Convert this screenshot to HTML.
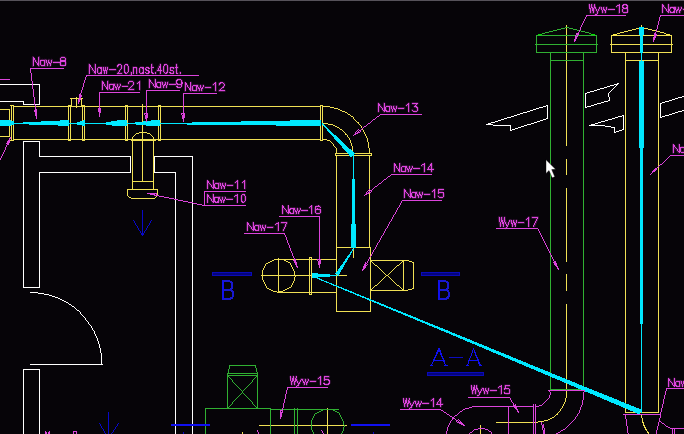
<!DOCTYPE html>
<html><head><meta charset="utf-8"><title>CAD view</title>
<style>
html,body{margin:0;padding:0;background:#060408;overflow:hidden;font-family:"Liberation Sans",sans-serif;}
svg{display:block;position:absolute;left:0;top:0;}
</style></head>
<body>
<svg width="684" height="434" viewBox="0 0 684 434" shape-rendering="crispEdges" stroke-linecap="butt" stroke-linejoin="miter">
<rect x="0" y="0" width="684" height="434" fill="#060408"/>
<rect x="0.0" y="0.0" width="684.0" height="1.0" fill="#56525a"/>
<path d="M0,101h24v1h-24zM23,101h1v4h-1zM23,104h17v1h-17zM39,84h1v21h-1zM0,84h40v1h-40z" fill="#ffffff"/>
<path d="M23,141h1v147h-1zM23,141h17v1h-17zM39,141h1v16h-1zM39,156h92v1h-92zM130,156h1v17h-1zM39,172h92v1h-92zM39,172h1v116h-1zM23,287h17v1h-17z" fill="#ffffff"/>
<path d="M154,156h1v17h-1zM154,156h39v1h-39zM192,156h1v281h-1z" fill="#ffffff"/>
<path d="M154,172h22v1h-22zM175,172h1v265h-1z" fill="#ffffff"/>
<path d="M30,292h2v1h-2zM31,292h2v1h-2zM32,292h2v1h-2zM33,292h3v1h-3zM35,292h2v1h-2zM36,292h2v1h-2zM38,293h3v1h-3zM40,293h2v1h-2zM41,293h2v1h-2zM42,293h2v1h-2zM44,294h3v1h-3zM46,294h2v1h-2zM47,294h2v1h-2zM49,295h3v1h-3zM52,296h2v1h-2zM53,296h2v1h-2zM55,297h2v1h-2zM58,298h2v1h-2zM60,299h2v1h-2zM62,300h2v1h-2zM66,302h2v1h-2zM69,304h2v1h-2zM72,306h2v1h-2zM77,310h2v1h-2zM80,312h1v2h-1zM85,318h1v2h-1zM88,322h1v2h-1zM91,326h1v2h-1zM92,328h1v2h-1zM94,331h1v2h-1zM95,334h1v2h-1zM96,336h1v2h-1zM97,338h1v2h-1zM98,341h1v2h-1zM98,342h1v2h-1zM99,344h1v2h-1zM99,345h1v3h-1zM100,348h1v2h-1zM100,349h1v2h-1zM100,350h1v2h-1zM101,353h1v2h-1zM101,354h1v2h-1zM101,355h1v2h-1zM101,356h1v3h-1zM101,358h1v2h-1zM101,359h1v2h-1zM101,360h1v2h-1zM101,361h1v3h-1zM37,292h1v1h-1zM38,293h1v1h-1zM43,293h1v1h-1zM44,294h1v1h-1zM48,294h1v1h-1zM49,295h1v1h-1zM51,295h1v1h-1zM52,296h1v1h-1zM54,296h1v1h-1zM55,297h1v1h-1zM56,297h1v1h-1zM57,297h1v1h-1zM58,298h1v1h-1zM59,298h1v1h-1zM60,299h1v1h-1zM61,299h1v1h-1zM62,300h1v1h-1zM63,300h1v1h-1zM64,301h1v1h-1zM65,301h1v1h-1zM66,302h1v1h-1zM67,302h1v1h-1zM68,303h1v1h-1zM69,304h1v1h-1zM70,304h1v1h-1zM71,305h1v1h-1zM72,306h1v1h-1zM73,306h1v1h-1zM74,307h1v1h-1zM75,308h1v1h-1zM76,309h1v1h-1zM77,310h1v1h-1zM78,310h1v1h-1zM79,311h1v1h-1zM80,312h1v2h-1zM81,314h1v1h-1zM82,315h1v1h-1zM83,316h1v1h-1zM84,317h1v1h-1zM85,318h1v2h-1zM86,320h1v1h-1zM87,321h1v1h-1zM88,322h1v2h-1zM89,324h1v1h-1zM90,325h1v1h-1zM91,326h1v2h-1zM92,328h1v2h-1zM93,330h1v1h-1zM94,331h1v3h-1zM95,334h1v2h-1zM96,336h1v2h-1zM97,338h1v3h-1zM98,341h1v1h-1zM98,343h1v1h-1zM99,344h1v1h-1zM99,347h1v1h-1zM100,348h1v1h-1zM100,351h1v2h-1zM101,353h1v1h-1zM101,363h1v1h-1zM102,364h1v1h-1z" fill="#ffffff"/>
<path d="M30,364h72v1h-72zM101,362h1v3h-1z" fill="#ffffff"/>
<path d="M23,369h1v68h-1zM23,369h17v1h-17zM39,369h1v68h-1z" fill="#ffffff"/>
<path d="M547,105h1v14h-1zM510,125h1v6h-1zM499,125h12v1h-12zM546,105h2v1h-2zM543,106h3v1h-3zM539,107h4v1h-4zM536,108h3v1h-3zM533,109h3v1h-3zM530,110h3v1h-3zM527,111h3v1h-3zM523,112h4v1h-4zM520,113h3v1h-3zM517,114h3v1h-3zM514,115h3v1h-3zM511,116h3v1h-3zM507,117h4v1h-4zM504,118h3v1h-3zM546,118h2v1h-2zM501,119h3v1h-3zM543,119h3v1h-3zM498,120h3v1h-3zM540,120h3v1h-3zM495,121h3v1h-3zM537,121h3v1h-3zM491,122h4v1h-4zM534,122h3v1h-3zM488,123h3v1h-3zM531,123h3v1h-3zM486,124h7v1h-7zM527,124h4v1h-4zM493,125h7v1h-7zM524,125h3v1h-3zM521,126h3v1h-3zM518,127h3v1h-3zM515,128h3v1h-3zM512,129h3v1h-3zM510,130h2v1h-2z" fill="#ffffff"/>
<path d="M585,93h1v15h-1zM617,83h2v1h-2zM614,84h4v1h-4zM610,85h4v1h-4zM616,85h1v1h-1zM607,86h3v1h-3zM615,86h1v1h-1zM604,87h3v1h-3zM614,87h1v1h-1zM600,88h4v1h-4zM613,88h1v1h-1zM597,89h3v1h-3zM612,89h1v1h-1zM594,90h3v1h-3zM611,90h1v1h-1zM590,91h4v1h-4zM610,91h1v1h-1zM587,92h3v1h-3zM609,92h1v1h-1zM585,93h2v1h-2zM608,93h1v1h-1zM608,94h1v1h-1zM608,95h1v1h-1zM608,96h1v1h-1zM609,97h1v1h-1zM609,98h1v1h-1zM609,99h1v1h-1zM608,100h2v1h-2zM604,101h4v1h-4zM601,102h3v1h-3zM597,103h4v1h-4zM594,104h3v1h-3zM591,105h3v1h-3zM587,106h4v1h-4zM585,107h2v1h-2z" fill="#ffffff"/>
<path d="M623,115h1v15h-1zM614,127h1v6h-1zM589,125h13v1h-13zM622,115h2v1h-2zM618,116h4v1h-4zM615,117h3v1h-3zM612,118h3v1h-3zM608,119h4v1h-4zM605,120h3v1h-3zM601,121h4v1h-4zM598,122h3v1h-3zM595,123h3v1h-3zM591,124h4v1h-4zM589,125h2v1h-2zM601,125h4v1h-4zM605,126h6v1h-6zM611,127h4v1h-4zM622,129h2v1h-2zM619,130h3v1h-3zM616,131h3v1h-3zM614,132h2v1h-2z" fill="#ffffff"/>
<path d="M660,103h1v15h-1zM685,95h2v1h-2zM682,96h3v1h-3zM678,97h4v1h-4zM675,98h3v1h-3zM672,99h3v1h-3zM669,100h3v1h-3zM665,101h4v1h-4zM662,102h3v1h-3zM660,103h2v1h-2zM685,109h2v1h-2zM682,110h3v1h-3zM678,111h4v1h-4zM675,112h3v1h-3zM672,113h3v1h-3zM669,114h3v1h-3zM665,115h4v1h-4zM662,116h3v1h-3zM660,117h2v1h-2z" fill="#ffffff"/>
<path d="M0,109h10v1h-10zM9,109h1v28h-1zM0,136h10v1h-10z" fill="#f0e054"/>
<path d="M13,106h308v1h-308z" fill="#f0e054"/>
<path d="M13,139h308v1h-308z" fill="#f0e054"/>
<path d="M11,105h1v36h-1z" fill="#f0e054"/>
<path d="M13,105h1v36h-1z" fill="#f0e054"/>
<path d="M10,105h4v1h-4z" fill="#f0e054"/>
<path d="M10,140h4v1h-4z" fill="#f0e054"/>
<path d="M68,105h3v1h-3zM70,105h1v36h-1zM68,140h3v1h-3zM68,105h1v36h-1z" fill="#f0e054"/>
<path d="M82,105h3v1h-3zM84,105h1v36h-1zM82,140h3v1h-3zM82,105h1v36h-1z" fill="#f0e054"/>
<path d="M125,105h3v1h-3zM127,105h1v36h-1zM125,140h3v1h-3zM125,105h1v36h-1z" fill="#f0e054"/>
<path d="M158,105h3v1h-3zM160,105h1v36h-1zM158,140h3v1h-3zM158,105h1v36h-1z" fill="#f0e054"/>
<path d="M320,105h3v1h-3zM322,105h1v36h-1zM320,140h3v1h-3zM320,105h1v36h-1z" fill="#f0e054"/>
<path d="M70,98h13v1h-13z" fill="#f0e054"/>
<path d="M71,98h1v9h-1z" fill="#f0e054"/>
<path d="M76,97h1v11h-1z" fill="#f0e054"/>
<path d="M81,98h1v9h-1z" fill="#f0e054"/>
<path d="M142,104h1v78h-1z" fill="#f0e054"/>
<path d="M132,140h1v50h-1z" fill="#f0e054"/>
<path d="M153,140h1v50h-1z" fill="#f0e054"/>
<path d="M131,140h25v1h-25z" fill="#f0e054"/>
<path d="M132,138h1v3h-1zM132,137h1v2h-1zM136,133h3v1h-3zM139,132h3v1h-3zM141,132h3v1h-3zM143,132h2v1h-2zM144,132h3v1h-3zM147,133h3v1h-3zM153,137h1v2h-1zM132,137h1v1h-1zM133,136h1v1h-1zM134,135h1v1h-1zM135,134h1v1h-1zM136,133h1v1h-1zM138,133h1v1h-1zM139,132h1v1h-1zM146,132h1v1h-1zM147,133h1v1h-1zM149,133h1v1h-1zM150,134h1v1h-1zM151,135h1v1h-1zM152,136h1v1h-1zM153,137h1v3h-1zM154,140h1v1h-1z" fill="#f0e054"/>
<path d="M132,181h22v1h-22z" fill="#f0e054"/>
<path d="M127,189h31v1h-31zM157,189h1v7h-1zM131,198h24v1h-24zM127,189h1v7h-1zM127,195h1v1h-1zM157,195h1v1h-1zM128,196h1v1h-1zM156,196h1v1h-1zM129,197h2v1h-2zM155,197h1v1h-1zM131,198h1v1h-1zM154,198h1v1h-1z" fill="#f0e054"/>
<path d="M323,106h2v1h-2zM324,106h2v1h-2zM325,106h2v1h-2zM326,106h2v1h-2zM327,106h3v1h-3zM330,107h2v1h-2zM331,107h2v1h-2zM332,107h2v1h-2zM334,108h3v1h-3zM336,108h2v1h-2zM338,109h2v1h-2zM340,110h2v1h-2zM342,111h3v1h-3zM345,112h2v1h-2zM348,114h2v1h-2zM351,116h2v1h-2zM353,117h1v2h-1zM357,122h2v1h-2zM358,122h1v2h-1zM361,126h1v2h-1zM363,130h1v2h-1zM364,132h1v2h-1zM365,134h1v2h-1zM366,136h1v2h-1zM367,138h1v3h-1zM367,140h1v2h-1zM368,142h1v2h-1zM368,143h1v2h-1zM368,144h1v3h-1zM368,146h1v2h-1zM369,148h1v2h-1zM369,149h1v3h-1zM369,151h1v2h-1zM369,152h1v2h-1zM329,106h1v1h-1zM330,107h1v1h-1zM333,107h1v1h-1zM334,108h1v1h-1zM337,108h1v1h-1zM338,109h1v1h-1zM339,109h1v1h-1zM340,110h1v1h-1zM341,110h1v1h-1zM342,111h1v1h-1zM344,111h1v1h-1zM345,112h1v1h-1zM346,112h1v1h-1zM347,113h1v1h-1zM348,114h1v1h-1zM349,114h1v1h-1zM350,115h1v1h-1zM351,116h1v1h-1zM352,116h1v1h-1zM353,117h1v2h-1zM354,119h1v1h-1zM355,120h1v1h-1zM356,121h1v1h-1zM357,122h1v1h-1zM358,123h1v1h-1zM359,124h1v1h-1zM360,125h1v1h-1zM361,126h1v2h-1zM362,128h1v2h-1zM363,130h1v2h-1zM364,132h1v2h-1zM365,134h1v2h-1zM366,136h1v2h-1zM367,138h1v1h-1zM367,141h1v1h-1zM368,142h1v1h-1zM368,147h1v1h-1zM369,148h1v1h-1z" fill="#f0e054"/>
<path d="M323,139h2v1h-2zM324,139h3v1h-3zM327,140h3v1h-3zM336,148h1v3h-1zM336,150h1v2h-1zM326,139h1v1h-1zM327,140h1v1h-1zM329,140h1v1h-1zM330,141h1v1h-1zM331,142h1v1h-1zM332,143h1v1h-1zM333,144h1v2h-1zM334,146h1v1h-1zM335,147h1v1h-1zM336,148h1v1h-1zM336,151h1v2h-1zM337,153h1v1h-1z" fill="#f0e054"/>
<path d="M323,123h2v1h-2zM324,123h2v1h-2zM325,123h2v1h-2zM326,123h2v1h-2zM328,124h3v1h-3zM330,124h2v1h-2zM331,124h2v1h-2zM333,125h2v1h-2zM335,126h2v1h-2zM337,127h2v1h-2zM340,129h2v1h-2zM345,133h1v2h-1zM345,134h2v1h-2zM347,135h1v2h-1zM349,138h1v2h-1zM350,140h1v3h-1zM351,143h1v2h-1zM351,144h1v2h-1zM352,146h1v2h-1zM352,147h1v2h-1zM352,148h1v2h-1zM352,149h1v3h-1zM352,151h1v2h-1zM327,123h1v1h-1zM328,124h1v1h-1zM332,124h1v1h-1zM333,125h2v1h-2zM335,126h2v1h-2zM337,127h2v1h-2zM339,128h1v1h-1zM340,129h2v1h-2zM342,130h1v1h-1zM343,131h1v1h-1zM344,132h1v1h-1zM345,133h1v1h-1zM346,134h1v1h-1zM347,135h1v1h-1zM347,136h1v1h-1zM348,137h1v1h-1zM349,138h1v1h-1zM349,139h1v1h-1zM350,140h1v1h-1zM350,142h1v1h-1zM351,143h1v1h-1zM351,145h1v1h-1zM352,146h1v1h-1zM352,152h1v1h-1zM353,153h1v1h-1z" fill="#f0e054"/>
<path d="M335,153h37v1h-37zM371,153h1v3h-1zM335,155h37v1h-37zM335,153h1v3h-1z" fill="#f0e054"/>
<path d="M336,155h1v157h-1zM336,311h35v1h-35zM370,247h1v65h-1z" fill="#f0e054"/>
<path d="M369,155h1v93h-1z" fill="#f0e054"/>
<path d="M336,247h35v1h-35z" fill="#f0e054"/>
<path d="M353,247h1v11h-1z" fill="#f0e054"/>
<path d="M294,277h1v3h-1zM280,291h3v1h-3zM274,291h3v1h-3zM262,277h1v3h-1zM262,275h1v3h-1zM262,273h1v3h-1zM262,271h1v3h-1zM274,259h3v1h-3zM276,259h3v1h-3zM278,259h3v1h-3zM280,259h3v1h-3zM294,271h1v3h-1zM274,259h1v1h-1zM282,259h2v1h-2zM272,260h2v1h-2zM284,260h2v1h-2zM270,261h2v1h-2zM286,261h2v1h-2zM268,262h2v1h-2zM288,262h2v1h-2zM266,263h2v1h-2zM290,263h1v1h-1zM265,264h1v1h-1zM290,264h1v1h-1zM265,265h1v1h-1zM291,265h1v1h-1zM264,266h1v1h-1zM291,266h1v1h-1zM264,267h1v1h-1zM292,267h1v1h-1zM263,268h1v1h-1zM292,268h1v1h-1zM263,269h1v1h-1zM293,269h1v1h-1zM262,270h1v1h-1zM293,270h1v1h-1zM262,271h1v1h-1zM294,271h1v1h-1zM294,273h1v1h-1zM294,274h1v1h-1zM295,275h1v1h-1zM295,276h1v1h-1zM294,277h1v1h-1zM262,279h1v1h-1zM294,279h1v1h-1zM263,280h1v1h-1zM294,280h1v1h-1zM263,281h1v1h-1zM293,281h1v1h-1zM264,282h1v1h-1zM293,282h1v1h-1zM264,283h1v1h-1zM292,283h1v1h-1zM265,284h1v1h-1zM292,284h1v1h-1zM265,285h1v1h-1zM291,285h1v1h-1zM266,286h1v1h-1zM291,286h1v1h-1zM266,287h1v1h-1zM289,287h2v1h-2zM267,288h2v1h-2zM287,288h2v1h-2zM269,289h2v1h-2zM285,289h2v1h-2zM271,290h2v1h-2zM283,290h2v1h-2zM273,291h2v1h-2zM276,291h1v1h-1zM279,291h2v1h-2zM282,291h1v1h-1zM277,292h2v1h-2z" fill="#f0e054"/>
<path d="M278,258h1v35h-1z" fill="#f0e054"/>
<path d="M261,275h86v1h-86z" fill="#f0e054"/>
<path d="M278,259h59v1h-59z" fill="#f0e054"/>
<path d="M278,292h59v1h-59z" fill="#f0e054"/>
<path d="M309,257h3v1h-3zM311,257h1v38h-1zM309,294h3v1h-3zM309,257h1v38h-1z" fill="#f0e054"/>
<path d="M370,260h34v1h-34zM403,260h1v31h-1zM370,290h34v1h-34zM370,260h1v31h-1z" fill="#f0e054"/>
<path d="M370,260h1v1h-1zM371,261h1v1h-1zM372,262h1v1h-1zM373,263h1v1h-1zM374,264h1v1h-1zM375,265h2v1h-2zM377,266h1v1h-1zM378,267h1v1h-1zM379,268h1v1h-1zM380,269h1v1h-1zM381,270h1v1h-1zM382,271h1v1h-1zM383,272h1v1h-1zM384,273h1v1h-1zM385,274h1v1h-1zM386,275h2v1h-2zM388,276h1v1h-1zM389,277h1v1h-1zM390,278h1v1h-1zM391,279h1v1h-1zM392,280h1v1h-1zM393,281h1v1h-1zM394,282h1v1h-1zM395,283h1v1h-1zM396,284h1v1h-1zM397,285h2v1h-2zM399,286h1v1h-1zM400,287h1v1h-1zM401,288h1v1h-1zM402,289h1v1h-1zM403,290h1v1h-1z" fill="#f0e054"/>
<path d="M403,260h1v1h-1zM402,261h1v1h-1zM401,262h1v1h-1zM400,263h1v1h-1zM399,264h1v1h-1zM397,265h2v1h-2zM396,266h1v1h-1zM395,267h1v1h-1zM394,268h1v1h-1zM393,269h1v1h-1zM392,270h1v1h-1zM391,271h1v1h-1zM390,272h1v1h-1zM389,273h1v1h-1zM388,274h1v1h-1zM386,275h2v1h-2zM385,276h1v1h-1zM384,277h1v1h-1zM383,278h1v1h-1zM382,279h1v1h-1zM381,280h1v1h-1zM380,281h1v1h-1zM379,282h1v1h-1zM378,283h1v1h-1zM377,284h1v1h-1zM375,285h2v1h-2zM374,286h1v1h-1zM373,287h1v1h-1zM372,288h1v1h-1zM371,289h1v1h-1zM370,290h1v1h-1z" fill="#f0e054"/>
<path d="M403,260h4v1h-4zM413,262h1v27h-1zM403,290h4v1h-4zM406,260h3v1h-3zM409,261h3v1h-3zM412,262h2v1h-2zM412,288h2v1h-2zM408,289h4v1h-4zM406,290h2v1h-2z" fill="#f0e054"/>
<path d="M566,25h1v121h-1z" fill="#f0e054"/>
<path d="M566,159h1v16h-1z" fill="#f0e054"/>
<path d="M566,188h1v74h-1z" fill="#f0e054"/>
<path d="M566,274h1v17h-1z" fill="#f0e054"/>
<path d="M566,304h1v89h-1z" fill="#f0e054"/>
<path d="M566,392h1v2h-1zM566,393h1v2h-1zM566,394h1v2h-1zM566,395h1v3h-1zM565,398h1v2h-1zM565,399h1v2h-1zM565,400h1v2h-1zM564,402h1v2h-1zM563,404h1v2h-1zM562,406h1v2h-1zM560,409h1v2h-1zM557,413h1v2h-1zM556,414h2v1h-2zM552,417h2v1h-2zM550,418h2v1h-2zM548,419h2v1h-2zM546,420h2v1h-2zM545,420h2v1h-2zM542,421h2v1h-2zM541,421h2v1h-2zM540,421h2v1h-2zM539,421h2v1h-2zM538,421h2v1h-2zM566,397h1v1h-1zM565,398h1v1h-1zM565,401h1v1h-1zM564,402h1v1h-1zM564,403h1v1h-1zM563,404h1v1h-1zM563,405h1v1h-1zM562,406h1v1h-1zM562,407h1v1h-1zM561,408h1v1h-1zM560,409h1v1h-1zM560,410h1v1h-1zM559,411h1v1h-1zM558,412h1v1h-1zM557,413h1v1h-1zM556,414h1v1h-1zM555,415h1v1h-1zM554,416h1v1h-1zM552,417h2v1h-2zM550,418h2v1h-2zM548,419h2v1h-2zM544,420h2v1h-2zM547,420h1v1h-1zM538,421h1v1h-1zM543,421h1v1h-1zM537,422h1v1h-1z" fill="#f0e054"/>
<path d="M496,422h42v1h-42z" fill="#f0e054"/>
<path d="M611,35h61v1h-61zM671,35h1v18h-1zM611,52h61v1h-61zM611,35h1v18h-1z" fill="#f0e054"/>
<path d="M610,44h63v1h-63z" fill="#f0e054"/>
<path d="M640,27h4v1h-4zM636,28h4v1h-4zM644,28h4v1h-4zM632,29h4v1h-4zM648,29h4v1h-4zM628,30h4v1h-4zM652,30h4v1h-4zM624,31h4v1h-4zM656,31h4v1h-4zM620,32h4v1h-4zM660,32h4v1h-4zM617,33h3v1h-3zM664,33h2v1h-2z" fill="#f0e054"/>
<rect x="613.0" y="34.0" width="4.0" height="1.0" fill="#fff040"/>
<rect x="666.0" y="34.0" width="4.0" height="1.0" fill="#fff040"/>
<path d="M641,25h1v2h-1z" fill="#f0e054"/>
<path d="M625,52h1v361h-1zM625,412h34v1h-34zM658,52h1v361h-1z" fill="#f0e054"/>
<path d="M625,60h34v1h-34z" fill="#f0e054"/>
<path d="M641.5,414 Q642,426 650,435" stroke="#f0e054" stroke-width="1" fill="none" />
<path d="M259,425h88v1h-88z" fill="#f0e054"/>
<path d="M327,408h1v29h-1z" fill="#f0e054"/>
<path d="M242,432h1v5h-1z" fill="#f0e054"/>
<path d="M480,425h1v12h-1z" fill="#f0e054"/>
<path d="M536,35h61v1h-61zM596,35h1v18h-1zM536,52h61v1h-61zM536,35h1v18h-1z" fill="#30b032"/>
<path d="M535,44h63v1h-63z" fill="#30b032"/>
<path d="M565,27h4v1h-4zM561,28h4v1h-4zM569,28h4v1h-4zM557,29h4v1h-4zM573,29h4v1h-4zM553,30h4v1h-4zM577,30h4v1h-4zM549,31h4v1h-4zM581,31h4v1h-4zM545,32h4v1h-4zM585,32h4v1h-4zM542,33h3v1h-3zM589,33h2v1h-2z" fill="#30b032"/>
<rect x="538.0" y="34.0" width="4.0" height="1.0" fill="#00e000"/>
<rect x="591.0" y="34.0" width="4.0" height="1.0" fill="#00e000"/>
<path d="M550,52h1v338h-1zM550,389h34v1h-34zM583,52h1v338h-1z" fill="#30b032"/>
<path d="M550,60h34v1h-34z" fill="#30b032"/>
<path d="M227,375h31v1h-31zM257,375h1v34h-1zM227,408h31v1h-31zM227,375h1v34h-1z" fill="#30b032"/>
<path d="M227,375h1v1h-1zM228,376h1v1h-1zM229,377h1v1h-1zM230,378h1v1h-1zM231,379h1v1h-1zM232,380h1v2h-1zM233,382h1v1h-1zM234,383h1v1h-1zM235,384h1v1h-1zM236,385h1v1h-1zM237,386h1v1h-1zM238,387h1v1h-1zM239,388h1v1h-1zM240,389h1v1h-1zM241,390h1v1h-1zM242,391h1v2h-1zM243,393h1v1h-1zM244,394h1v1h-1zM245,395h1v1h-1zM246,396h1v1h-1zM247,397h1v1h-1zM248,398h1v1h-1zM249,399h1v1h-1zM250,400h1v1h-1zM251,401h1v1h-1zM252,402h1v2h-1zM253,404h1v1h-1zM254,405h1v1h-1zM255,406h1v1h-1zM256,407h1v1h-1zM257,408h1v1h-1z" fill="#30b032"/>
<path d="M227,408h1v1h-1zM228,407h1v1h-1zM229,406h1v1h-1zM230,405h1v1h-1zM231,404h1v1h-1zM232,402h1v2h-1zM233,401h1v1h-1zM234,400h1v1h-1zM235,399h1v1h-1zM236,398h1v1h-1zM237,397h1v1h-1zM238,396h1v1h-1zM239,395h1v1h-1zM240,394h1v1h-1zM241,393h1v1h-1zM242,391h1v2h-1zM243,390h1v1h-1zM244,389h1v1h-1zM245,388h1v1h-1zM246,387h1v1h-1zM247,386h1v1h-1zM248,385h1v1h-1zM249,384h1v1h-1zM250,383h1v1h-1zM251,382h1v1h-1zM252,380h1v2h-1zM253,379h1v1h-1zM254,378h1v1h-1zM255,377h1v1h-1zM256,376h1v1h-1zM257,375h1v1h-1z" fill="#30b032"/>
<path d="M227,373h1v3h-1zM227,373h31v1h-31zM257,373h1v3h-1z" fill="#30b032"/>
<path d="M229,365h27v1h-27zM228,369h1v5h-1zM229,365h1v4h-1zM255,365h1v3h-1zM256,368h1v4h-1zM257,372h1v2h-1z" fill="#30b032"/>
<path d="M205,408h1v29h-1zM205,408h66v1h-66zM270,408h1v29h-1z" fill="#30b032"/>
<path d="M270,409h69v1h-69z" fill="#30b032"/>
<path d="M294,408h1v29h-1z" fill="#30b032"/>
<path d="M297,408h1v29h-1z" fill="#30b032"/>
<path d="M343,427h1v3h-1zM329,441h3v1h-3zM323,441h3v1h-3zM311,427h1v3h-1zM311,425h1v3h-1zM311,423h1v3h-1zM311,421h1v3h-1zM323,409h3v1h-3zM325,409h3v1h-3zM327,409h3v1h-3zM329,409h3v1h-3zM343,421h1v3h-1zM323,409h1v1h-1zM331,409h2v1h-2zM321,410h2v1h-2zM333,410h2v1h-2zM319,411h2v1h-2zM335,411h2v1h-2zM317,412h2v1h-2zM337,412h2v1h-2zM315,413h2v1h-2zM339,413h1v1h-1zM314,414h1v1h-1zM339,414h1v1h-1zM314,415h1v1h-1zM340,415h1v1h-1zM313,416h1v1h-1zM340,416h1v1h-1zM313,417h1v1h-1zM341,417h1v1h-1zM312,418h1v1h-1zM341,418h1v1h-1zM312,419h1v1h-1zM342,419h1v1h-1zM311,420h1v1h-1zM342,420h1v1h-1zM311,421h1v1h-1zM343,421h1v1h-1zM343,423h1v1h-1zM343,424h1v1h-1zM344,425h1v1h-1zM344,426h1v1h-1zM343,427h1v1h-1zM311,429h1v1h-1zM343,429h1v1h-1zM312,430h1v1h-1zM343,430h1v1h-1zM312,431h1v1h-1zM342,431h1v1h-1zM313,432h1v1h-1zM342,432h1v1h-1zM313,433h1v1h-1zM341,433h1v1h-1zM314,434h1v1h-1zM341,434h1v1h-1zM314,435h1v1h-1zM340,435h1v1h-1zM315,436h1v1h-1zM340,436h1v1h-1zM315,437h1v1h-1zM338,437h2v1h-2zM316,438h2v1h-2zM336,438h2v1h-2zM318,439h2v1h-2zM334,439h2v1h-2zM320,440h2v1h-2zM332,440h2v1h-2zM322,441h2v1h-2zM325,441h1v1h-1zM328,441h2v1h-2zM331,441h1v1h-1zM326,442h2v1h-2z" fill="#30b032"/>
<rect x="212.0" y="272.0" width="40.0" height="4.0" fill="#0a0ab8"/>
<rect x="213.0" y="273.0" width="38.0" height="2.0" fill="#04047c"/>
<rect x="421.0" y="272.0" width="39.0" height="4.0" fill="#0a0ab8"/>
<rect x="422.0" y="273.0" width="37.0" height="2.0" fill="#04047c"/>
<rect x="426.5" y="372.0" width="57.5" height="4.0" fill="#0a0ab8"/>
<rect x="427.5" y="373.0" width="55.5" height="2.0" fill="#04047c"/>
<rect x="171.0" y="424.0" width="39.0" height="2.0" fill="#1010f0"/>
<rect x="350.5" y="424.0" width="39.5" height="2.0" fill="#1010f0"/>
<path d="M142,210h1v26h-1z" fill="#0808c8"/>
<path d="M133,220h1v1h-1zM134,221h1v2h-1zM135,223h1v2h-1zM136,225h1v1h-1zM137,226h1v2h-1zM138,228h1v2h-1zM139,230h1v1h-1zM140,231h1v2h-1zM141,233h1v2h-1zM142,235h1v1h-1zM143,233h1v2h-1zM144,231h1v2h-1zM145,230h1v1h-1zM146,228h1v2h-1zM147,226h1v2h-1zM148,225h1v1h-1zM149,223h1v2h-1zM150,221h1v2h-1zM151,220h1v1h-1z" fill="#0808c8"/>
<path d="M108,412h1v25h-1z" fill="#0808c8"/>
<path d="M99,423h1v1h-1zM100,424h1v2h-1zM101,426h1v2h-1zM102,428h1v1h-1zM103,429h1v2h-1zM104,431h1v2h-1zM105,433h1v1h-1zM106,434h1v2h-1zM107,436h1v2h-1zM108,438h1v1h-1zM109,436h1v2h-1zM110,435h1v1h-1zM111,433h1v2h-1zM112,432h1v1h-1zM113,430h1v2h-1zM114,429h1v1h-1zM115,427h1v2h-1zM116,426h1v1h-1zM117,424h1v2h-1zM118,423h1v1h-1z" fill="#0808c8"/>
<rect x="182.5" y="432.0" width="1.5" height="2.0" fill="#0808c8"/>
<rect x="372.5" y="432.0" width="1.5" height="2.0" fill="#0808c8"/>
<rect x="222.2" y="280.3" width="2.2" height="19.5" fill="#1010f0"/>
<path d="M223.2,281.3 L228.7,281.3 Q232.5,281.3 232.5,285.6 Q232.5,290.0 228.7,290.0 L223.2,290.0 M228.7,290.0 Q233.2,290.0 233.2,294.40000000000003 Q233.2,298.8 228.7,298.8 L223.2,298.8" stroke="#1818d0" stroke-width="2" fill="none" />
<rect x="438.0" y="280.3" width="2.2" height="19.5" fill="#1010f0"/>
<path d="M439,281.3 L444.5,281.3 Q448.3,281.3 448.3,285.6 Q448.3,290.0 444.5,290.0 L439,290.0 M444.5,290.0 Q449,290.0 449,294.40000000000003 Q449,298.8 444.5,298.8 L439,298.8" stroke="#1818d0" stroke-width="2" fill="none" />
<path d="M431,364h1v2h-1zM432,362h1v2h-1zM433,359h1v3h-1zM434,357h1v2h-1zM435,355h1v2h-1zM436,352h1v3h-1zM437,350h1v2h-1zM438,348h1v2h-1zM439,350h1v2h-1zM440,352h1v3h-1zM441,355h1v2h-1zM442,357h1v2h-1zM443,359h1v3h-1zM444,362h1v2h-1zM445,364h1v2h-1z" fill="#1010f0"/>
<path d="M431,364h1v2h-1zM432,362h1v2h-1zM433,360h1v2h-1zM434,358h1v2h-1zM435,356h1v2h-1zM436,354h1v2h-1zM437,352h1v2h-1zM438,350h1v2h-1zM439,348h1v2h-1zM440,350h1v3h-1zM441,353h1v3h-1zM442,356h1v2h-1zM443,358h1v3h-1zM444,361h1v3h-1zM445,364h1v2h-1z" fill="#1010f0"/>
<path d="M433,360h12v1h-12z" fill="#1010f0"/>
<path d="M430,365h3v1h-3z" fill="#1010f0"/>
<path d="M444,365h4v1h-4z" fill="#1010f0"/>
<path d="M467,364h1v2h-1zM468,361h1v3h-1zM469,358h1v3h-1zM470,356h1v2h-1zM471,353h1v3h-1zM472,350h1v3h-1zM473,348h1v2h-1zM474,350h1v3h-1zM475,353h1v3h-1zM476,356h1v2h-1zM477,358h1v3h-1zM478,361h1v3h-1zM479,364h1v2h-1z" fill="#1010f0"/>
<path d="M467,364h1v2h-1zM468,361h1v3h-1zM469,358h1v3h-1zM470,356h1v2h-1zM471,353h1v3h-1zM472,350h1v3h-1zM473,348h1v2h-1zM474,350h1v2h-1zM475,352h1v3h-1zM476,355h1v2h-1zM477,357h1v2h-1zM478,359h1v3h-1zM479,362h1v2h-1zM480,364h1v2h-1z" fill="#1010f0"/>
<path d="M468,360h11v1h-11z" fill="#1010f0"/>
<path d="M466,365h3v1h-3z" fill="#1010f0"/>
<path d="M479,365h3v1h-3z" fill="#1010f0"/>
<path d="M449,357h14v1h-14z" fill="#0c0cc0"/>
<rect x="0.0" y="120.0" width="10.5" height="6.0" fill="#00e8ff"/>
<rect x="10.5" y="121.0" width="3.0" height="4.0" fill="#00e8ff"/>
<rect x="13.5" y="123.0" width="307.0" height="1.0" fill="#00e8ff"/>
<polygon points="14.0,123.0 69.0,120.0 69.0,125.9 14.0,124.0" fill="#00e8ff" stroke="none"/>
<polygon points="75.0,123.0 84.5,120.0 84.5,126.0 75.0,124.0" fill="#00e8ff" stroke="none"/>
<polygon points="103.0,123.0 120.0,120.0 127.0,120.0 127.0,126.0 115.0,126.0 103.0,124.0" fill="#00e8ff" stroke="none"/>
<polygon points="131.0,123.0 155.0,120.0 160.0,120.0 160.0,126.0 151.0,126.0 131.0,124.0" fill="#00e8ff" stroke="none"/>
<polygon points="187.0,122.6 320.5,119.9 320.5,126.0 187.0,124.5" fill="#00e8ff" stroke="none"/>
<polygon points="321.6,123.8 351.1,157.4 354.9,153.6 322.4,123.2" fill="#00e8ff" stroke="none"/>
<rect x="352.5" y="155.0" width="1.2" height="24.0" fill="#00e8ff"/>
<rect x="352.0" y="178.5" width="3.0" height="46.0" fill="#00e8ff"/>
<rect x="351.0" y="224.0" width="5.0" height="23.5" fill="#00e8ff"/>
<polygon points="352.9,248.7 335.5,273.5 338.5,275.5 353.7,249.3" fill="#00e8ff" stroke="none"/>
<rect x="329.0" y="275.0" width="8.0" height="1.2" fill="#00e8ff"/>
<rect x="317.0" y="274.0" width="13.0" height="3.0" fill="#00e8ff"/>
<rect x="312.0" y="273.0" width="5.5" height="4.6" fill="#00e8ff"/>
<polygon points="311.8,276.5 449.5,333.9 450.5,331.7 312.2,275.5" fill="#00e8ff" stroke="none"/>
<polygon points="449.5,333.9 559.3,380.4 560.7,376.9 450.5,331.7" fill="#00e8ff" stroke="none"/>
<polygon points="559.3,380.4 639.5,414.4 641.5,409.6 560.7,376.9" fill="#00e8ff" stroke="none"/>
<rect x="639.0" y="27.0" width="5.0" height="8.0" fill="#00e8ff"/>
<rect x="640.0" y="35.0" width="3.0" height="17.5" fill="#00e8ff"/>
<rect x="640.8" y="52.5" width="1.5" height="8.0" fill="#00e8ff"/>
<rect x="639.0" y="60.5" width="5.0" height="87.0" fill="#00e8ff"/>
<rect x="640.0" y="147.5" width="3.0" height="176.0" fill="#00e8ff"/>
<rect x="641.0" y="323.5" width="1.0" height="89.0" fill="#00e8ff"/>
<path d="M0,79h10v1h-10z" fill="#dc44dc"/>
<path d="M0,158h1v2h-1zM1,156h1v2h-1zM2,154h1v2h-1zM3,152h1v2h-1zM4,150h1v2h-1zM5,147h1v3h-1zM6,145h1v2h-1zM7,143h1v2h-1zM8,141h1v2h-1zM9,139h1v2h-1zM10,137h1v2h-1z" fill="#dc44dc"/>
<path d="M6,143h1v1h-1zM7,141h1v2h-1zM7,144h1v1h-1zM8,140h1v1h-1zM8,143h1v2h-1zM9,138h1v5h-1zM10,137h1v2h-1z" fill="#dc44dc"/>
<path d="M476,406h3v1h-3zM475,406h2v1h-2zM474,406h2v1h-2zM472,406h3v1h-3zM470,407h2v1h-2zM469,407h2v1h-2zM466,408h3v1h-3zM465,408h2v1h-2zM463,409h2v1h-2zM460,411h2v1h-2zM455,415h2v1h-2zM452,418h1v2h-1zM450,421h1v2h-1zM448,425h1v2h-1zM447,427h1v2h-1zM447,428h1v2h-1zM446,431h1v2h-1zM446,432h1v2h-1zM446,433h1v2h-1zM446,434h1v2h-1zM446,435h1v3h-1zM446,437h1v2h-1zM446,431h1v1h-1zM447,427h1v1h-1zM447,429h1v2h-1zM448,425h1v2h-1zM449,423h1v2h-1zM450,421h1v2h-1zM451,420h1v1h-1zM452,418h1v2h-1zM453,417h1v1h-1zM454,416h1v1h-1zM455,415h1v1h-1zM456,415h1v1h-1zM457,414h1v1h-1zM458,413h1v1h-1zM459,412h1v1h-1zM460,411h1v1h-1zM461,411h1v1h-1zM462,410h1v1h-1zM463,409h1v1h-1zM464,409h1v1h-1zM465,408h1v1h-1zM468,408h1v1h-1zM469,407h1v1h-1zM471,407h1v1h-1zM472,406h1v1h-1z" fill="#dc44dc"/>
<path d="M478,406h56v1h-56z" fill="#dc44dc"/>
<path d="M508,406h1v31h-1z" fill="#dc44dc"/>
<path d="M533,404h1v33h-1z" fill="#dc44dc"/>
<path d="M535,404h1v33h-1z" fill="#dc44dc"/>
<path d="M548,390h37v1h-37zM548,390h1v1h-1zM549,391h1v1h-1zM550,392h1v1h-1zM550,393h1v1h-1zM550,394h1v1h-1zM549,395h1v1h-1zM549,396h1v1h-1zM549,397h1v1h-1zM548,398h1v1h-1zM547,399h1v1h-1zM546,400h1v1h-1zM545,401h1v1h-1zM544,402h1v1h-1zM543,403h1v1h-1zM542,404h1v1h-1zM539,405h3v1h-3zM536,406h3v1h-3z" fill="#dc44dc"/>
<path d="M583,392h1v2h-1zM583,393h1v3h-1zM583,395h1v2h-1zM583,396h1v3h-1zM583,398h1v2h-1zM582,400h1v3h-1zM582,402h1v2h-1zM581,405h1v2h-1zM580,407h1v3h-1zM579,410h1v2h-1zM577,414h1v2h-1zM563,429h2v1h-2zM558,432h2v1h-2zM554,434h2v1h-2zM553,435h1v1h-1zM554,434h1v1h-1zM555,434h1v1h-1zM556,433h1v1h-1zM557,433h1v1h-1zM558,432h1v1h-1zM559,432h1v1h-1zM560,431h1v1h-1zM561,430h1v1h-1zM562,430h1v1h-1zM563,429h1v1h-1zM564,429h1v1h-1zM565,428h1v1h-1zM566,427h1v1h-1zM567,426h1v1h-1zM568,425h1v1h-1zM569,424h1v1h-1zM570,423h1v1h-1zM571,422h1v1h-1zM572,421h1v1h-1zM573,420h1v1h-1zM574,419h1v1h-1zM575,417h1v2h-1zM576,416h1v1h-1zM577,414h1v2h-1zM578,413h1v1h-1zM579,410h1v3h-1zM580,407h1v1h-1zM580,409h1v1h-1zM581,405h1v2h-1zM582,400h1v1h-1zM582,403h1v2h-1zM583,392h1v1h-1zM583,399h1v1h-1zM584,391h1v1h-1z" fill="#dc44dc"/>
<path d="M474,429h3v1h-3zM478,428h4v1h-4zM481,428h3v1h-3zM485,429h3v1h-3zM467,437h1v2h-1zM468,435h1v2h-1zM469,433h1v2h-1zM470,432h1v1h-1zM471,432h1v1h-1zM472,431h1v1h-1zM473,430h1v1h-1zM474,429h1v1h-1zM476,429h1v1h-1zM477,429h1v1h-1zM478,428h1v1h-1zM483,428h1v1h-1zM484,428h1v1h-1zM485,429h1v1h-1zM487,429h1v1h-1zM488,430h1v1h-1zM489,431h1v1h-1zM490,431h1v1h-1zM491,432h1v2h-1zM492,434h1v2h-1zM493,436h1v2h-1zM494,438h1v1h-1z" fill="#dc44dc"/>
<path d="M541,422h1v3h-1zM542,425h1v5h-1zM543,430h1v4h-1zM544,434h1v3h-1z" fill="#dc44dc"/>
<path d="M543,424h1v4h-1zM544,428h1v6h-1zM545,434h1v3h-1z" fill="#dc44dc"/>
<path d="M623,414h38v1h-38z" fill="#dc44dc"/>
<path d="M625,415h1v4h-1zM626,419h1v7h-1zM627,426h1v7h-1zM628,433h1v4h-1z" fill="#dc44dc"/>
<path d="M655,434h1v3h-1zM656,430h1v4h-1zM657,426h1v4h-1zM658,422h1v4h-1zM659,418h1v4h-1zM660,415h1v3h-1z" fill="#dc44dc"/>
<path d="M671,428h16v1h-16zM660,421h1v1h-1zM661,422h1v1h-1zM662,423h2v1h-2zM664,424h1v1h-1zM665,425h1v1h-1zM666,426h2v1h-2zM668,427h2v1h-2zM670,428h2v1h-2z" fill="#dc44dc"/>
<path d="M672,428h1v9h-1z" fill="#dc44dc"/>
<path d="M674,428h1v9h-1z" fill="#dc44dc"/>
<path d="M44,434h1v3h-1zM45,431h1v3h-1zM46,432h1v2h-1zM47,434h1v1h-1zM48,432h1v2h-1zM49,431h1v3h-1zM50,434h1v3h-1z" fill="#dc44dc"/>
<path d="M73,431h4v1h-4zM72,434h1v3h-1zM73,431h1v3h-1zM76,431h1v3h-1zM77,434h1v3h-1z" fill="#dc44dc"/>
<path d="M257,430h1v2h-1zM258,432h1v2h-1zM259,434h1v2h-1zM260,436h1v1h-1z" fill="#dc44dc"/>
<path d="M321,430h1v1h-1zM322,431h1v2h-1zM323,433h1v1h-1zM324,434h1v2h-1zM325,436h1v1h-1z" fill="#dc44dc"/>
<path transform="translate(33.00,57.20) scale(0.889,0.944)" d="M0,9 L0,0 L6.7,9 L6.7,0" stroke="#dc44dc" stroke-width="2.4" stroke-opacity="0.28" fill="none" stroke-linejoin="round" stroke-linecap="round" vector-effect="non-scaling-stroke" shape-rendering="geometricPrecision"/>
<path transform="translate(40.38,57.20) scale(0.889,0.944)" d="M4.9,3 L4.9,9 M4.9,4.4 Q4,3 2.5,3 Q0,3 0,6 Q0,9 2.5,9 Q4,9 4.9,7.6" stroke="#dc44dc" stroke-width="2.4" stroke-opacity="0.28" fill="none" stroke-linejoin="round" stroke-linecap="round" vector-effect="non-scaling-stroke" shape-rendering="geometricPrecision"/>
<path transform="translate(46.07,57.20) scale(0.889,0.944)" d="M0,3 L1.6,9 L3.15,3 L4.7,9 L6.3,3" stroke="#dc44dc" stroke-width="2.4" stroke-opacity="0.28" fill="none" stroke-linejoin="round" stroke-linecap="round" vector-effect="non-scaling-stroke" shape-rendering="geometricPrecision"/>
<path transform="translate(53.18,57.20) scale(0.889,0.944)" d="M0.5,5.3 L6.9,5.3" stroke="#dc44dc" stroke-width="2.4" stroke-opacity="0.28" fill="none" stroke-linejoin="round" stroke-linecap="round" vector-effect="non-scaling-stroke" shape-rendering="geometricPrecision"/>
<path transform="translate(60.29,57.20) scale(0.889,0.944)" d="M3.1,0 Q0.4,0 0.4,2 Q0.4,4 3.1,4 Q5.8,4 5.8,2 Q5.8,0 3.1,0 M3.1,4 Q0,4 0,6.5 Q0,9 3.1,9 Q6.2,9 6.2,6.5 Q6.2,4 3.1,4" stroke="#dc44dc" stroke-width="2.4" stroke-opacity="0.28" fill="none" stroke-linejoin="round" stroke-linecap="round" vector-effect="non-scaling-stroke" shape-rendering="geometricPrecision"/>
<path d="M33,57h1v9h-1zM34,58h1v2h-1zM35,60h1v2h-1zM36,62h1v1h-1zM37,63h1v2h-1zM38,57h1v9h-1zM40,60h1v5h-1zM41,60h1v1h-1zM41,65h1v1h-1zM42,60h1v1h-1zM42,65h1v1h-1zM43,60h1v1h-1zM43,65h1v1h-1zM44,60h1v6h-1zM46,60h1v3h-1zM47,63h1v3h-1zM48,60h1v3h-1zM49,62h1v2h-1zM50,63h1v3h-1zM51,60h1v3h-1zM53,62h1v1h-1zM54,62h1v1h-1zM55,62h1v1h-1zM56,62h1v1h-1zM57,62h1v1h-1zM58,62h1v1h-1zM59,62h1v1h-1zM60,58h1v8h-1zM61,57h1v1h-1zM61,60h1v2h-1zM61,65h1v1h-1zM62,57h1v1h-1zM62,60h1v2h-1zM62,65h1v1h-1zM63,57h1v1h-1zM63,60h1v2h-1zM63,65h1v1h-1zM64,57h1v1h-1zM64,60h1v2h-1zM64,65h1v1h-1zM65,58h1v8h-1z" fill="#dc44dc"/>
<path d="M30,68h34v1h-34z" fill="#dc44dc"/>
<path d="M30,68h1v5h-1zM31,73h1v8h-1zM32,81h1v8h-1zM33,89h1v8h-1zM34,97h1v8h-1zM35,105h1v9h-1zM36,114h1v5h-1z" fill="#dc44dc"/>
<path d="M36,109h1v10h-1zM34,110h1v2h-1zM35,110h1v1h-1zM35,112h1v4h-1zM36,109h1v1h-1zM36,116h1v3h-1z" fill="#dc44dc"/>
<path transform="translate(89.10,64.50) scale(0.881,0.989)" d="M0,9 L0,0 L6.7,9 L6.7,0" stroke="#dc44dc" stroke-width="2.4" stroke-opacity="0.28" fill="none" stroke-linejoin="round" stroke-linecap="round" vector-effect="non-scaling-stroke" shape-rendering="geometricPrecision"/>
<path transform="translate(97.50,64.50) scale(0.776,0.989)" d="M4.9,3 L4.9,9 M4.9,4.4 Q4,3 2.5,3 Q0,3 0,6 Q0,9 2.5,9 Q4,9 4.9,7.6" stroke="#dc44dc" stroke-width="2.4" stroke-opacity="0.28" fill="none" stroke-linejoin="round" stroke-linecap="round" vector-effect="non-scaling-stroke" shape-rendering="geometricPrecision"/>
<path transform="translate(103.30,64.50) scale(0.667,0.989)" d="M0,3 L1.6,9 L3.15,3 L4.7,9 L6.3,3" stroke="#dc44dc" stroke-width="2.4" stroke-opacity="0.28" fill="none" stroke-linejoin="round" stroke-linecap="round" vector-effect="non-scaling-stroke" shape-rendering="geometricPrecision"/>
<path transform="translate(109.50,64.50) scale(0.870,0.989)" d="M0.5,5.3 L6.9,5.3" stroke="#dc44dc" stroke-width="2.4" stroke-opacity="0.28" fill="none" stroke-linejoin="round" stroke-linecap="round" vector-effect="non-scaling-stroke" shape-rendering="geometricPrecision"/>
<path transform="translate(117.50,64.50) scale(0.683,0.989)" d="M0.2,2.4 Q0.2,0 3.1,0 Q6,0 6,2.4 Q6,3.8 4.2,5.4 L0,9 L6.3,9" stroke="#dc44dc" stroke-width="2.4" stroke-opacity="0.28" fill="none" stroke-linejoin="round" stroke-linecap="round" vector-effect="non-scaling-stroke" shape-rendering="geometricPrecision"/>
<path transform="translate(124.30,64.50) scale(0.851,0.989)" d="M2.35,0 Q0,0 0,4.5 Q0,9 2.35,9 Q4.7,9 4.7,4.5 Q4.7,0 2.35,0" stroke="#dc44dc" stroke-width="2.4" stroke-opacity="0.28" fill="none" stroke-linejoin="round" stroke-linecap="round" vector-effect="non-scaling-stroke" shape-rendering="geometricPrecision"/>
<path transform="translate(130.40,64.50) scale(0.750,0.989)" d="M0.8,8 L0.8,9.2 L0.1,10.8" stroke="#dc44dc" stroke-width="2.4" stroke-opacity="0.28" fill="none" stroke-linejoin="round" stroke-linecap="round" vector-effect="non-scaling-stroke" shape-rendering="geometricPrecision"/>
<path transform="translate(133.30,64.50) scale(0.766,0.989)" d="M0,3 L0,9 M0,4.7 Q1,3 2.8,3 Q4.7,3 4.7,5 L4.7,9" stroke="#dc44dc" stroke-width="2.4" stroke-opacity="0.28" fill="none" stroke-linejoin="round" stroke-linecap="round" vector-effect="non-scaling-stroke" shape-rendering="geometricPrecision"/>
<path transform="translate(139.50,64.50) scale(0.714,0.989)" d="M4.9,3 L4.9,9 M4.9,4.4 Q4,3 2.5,3 Q0,3 0,6 Q0,9 2.5,9 Q4,9 4.9,7.6" stroke="#dc44dc" stroke-width="2.4" stroke-opacity="0.28" fill="none" stroke-linejoin="round" stroke-linecap="round" vector-effect="non-scaling-stroke" shape-rendering="geometricPrecision"/>
<path transform="translate(145.40,64.50) scale(0.771,0.989)" d="M4.7,4 Q4,3 2.4,3 Q0.3,3 0.3,4.5 Q0.3,5.6 2.4,6 Q4.8,6.4 4.8,7.6 Q4.8,9 2.4,9 Q0.6,9 0,8" stroke="#dc44dc" stroke-width="2.4" stroke-opacity="0.28" fill="none" stroke-linejoin="round" stroke-linecap="round" vector-effect="non-scaling-stroke" shape-rendering="geometricPrecision"/>
<path transform="translate(151.10,64.50) scale(0.667,0.989)" d="M1.3,0 L1.3,7.8 Q1.3,9 2.4,9 L3,9 M0,3 L3,3" stroke="#dc44dc" stroke-width="2.4" stroke-opacity="0.28" fill="none" stroke-linejoin="round" stroke-linecap="round" vector-effect="non-scaling-stroke" shape-rendering="geometricPrecision"/>
<path transform="translate(154.90,64.50) scale(1.000,0.989)" d="M0.6,8 L0.6,9" stroke="#dc44dc" stroke-width="2.4" stroke-opacity="0.28" fill="none" stroke-linejoin="round" stroke-linecap="round" vector-effect="non-scaling-stroke" shape-rendering="geometricPrecision"/>
<path transform="translate(157.20,64.50) scale(0.667,0.989)" d="M4.6,0 L0,6.2 L6.6,6.2 M4.6,0 L4.6,9" stroke="#dc44dc" stroke-width="2.4" stroke-opacity="0.28" fill="none" stroke-linejoin="round" stroke-linecap="round" vector-effect="non-scaling-stroke" shape-rendering="geometricPrecision"/>
<path transform="translate(163.70,64.50) scale(0.872,0.989)" d="M2.35,0 Q0,0 0,4.5 Q0,9 2.35,9 Q4.7,9 4.7,4.5 Q4.7,0 2.35,0" stroke="#dc44dc" stroke-width="2.4" stroke-opacity="0.28" fill="none" stroke-linejoin="round" stroke-linecap="round" vector-effect="non-scaling-stroke" shape-rendering="geometricPrecision"/>
<path transform="translate(169.80,64.50) scale(0.812,0.989)" d="M4.7,4 Q4,3 2.4,3 Q0.3,3 0.3,4.5 Q0.3,5.6 2.4,6 Q4.8,6.4 4.8,7.6 Q4.8,9 2.4,9 Q0.6,9 0,8" stroke="#dc44dc" stroke-width="2.4" stroke-opacity="0.28" fill="none" stroke-linejoin="round" stroke-linecap="round" vector-effect="non-scaling-stroke" shape-rendering="geometricPrecision"/>
<path transform="translate(175.50,64.50) scale(0.733,0.989)" d="M1.3,0 L1.3,7.8 Q1.3,9 2.4,9 L3,9 M0,3 L3,3" stroke="#dc44dc" stroke-width="2.4" stroke-opacity="0.28" fill="none" stroke-linejoin="round" stroke-linecap="round" vector-effect="non-scaling-stroke" shape-rendering="geometricPrecision"/>
<path transform="translate(179.50,64.50) scale(1.000,0.989)" d="M0.6,8 L0.6,9" stroke="#dc44dc" stroke-width="2.4" stroke-opacity="0.28" fill="none" stroke-linejoin="round" stroke-linecap="round" vector-effect="non-scaling-stroke" shape-rendering="geometricPrecision"/>
<path d="M89,64h1v10h-1zM90,65h1v2h-1zM91,67h1v1h-1zM92,68h1v2h-1zM93,70h1v1h-1zM94,71h1v2h-1zM95,64h1v10h-1zM97,68h1v5h-1zM98,67h1v1h-1zM98,73h1v1h-1zM99,67h1v1h-1zM99,73h1v1h-1zM100,67h1v2h-1zM100,72h1v2h-1zM101,67h1v7h-1zM103,67h1v4h-1zM104,70h1v4h-1zM105,67h1v4h-1zM106,70h1v4h-1zM107,67h1v3h-1zM109,69h1v1h-1zM110,69h1v1h-1zM111,69h1v1h-1zM112,69h1v1h-1zM113,69h1v1h-1zM114,69h1v1h-1zM115,69h1v1h-1zM117,65h1v2h-1zM117,73h1v1h-1zM118,64h1v2h-1zM118,72h1v2h-1zM119,64h1v1h-1zM119,70h1v2h-1zM119,73h1v1h-1zM120,64h1v1h-1zM120,69h1v1h-1zM120,73h1v1h-1zM121,65h1v4h-1zM121,73h1v1h-1zM124,65h1v8h-1zM125,64h1v1h-1zM125,72h1v2h-1zM126,64h1v1h-1zM126,73h1v1h-1zM127,64h1v2h-1zM127,72h1v1h-1zM128,66h1v6h-1zM130,75h1v1h-1zM131,72h1v3h-1zM133,67h1v7h-1zM134,67h1v1h-1zM135,67h1v1h-1zM136,67h1v7h-1zM139,68h1v5h-1zM140,67h1v1h-1zM140,73h1v1h-1zM141,67h1v1h-1zM141,73h1v1h-1zM142,67h1v2h-1zM142,72h1v2h-1zM143,67h1v7h-1zM145,68h1v2h-1zM145,72h1v1h-1zM146,67h1v1h-1zM146,69h1v2h-1zM146,73h1v1h-1zM147,67h1v1h-1zM147,70h1v1h-1zM147,73h1v1h-1zM148,67h1v2h-1zM148,70h1v4h-1zM149,68h1v1h-1zM149,71h1v2h-1zM151,64h1v9h-1zM152,67h1v1h-1zM152,72h1v2h-1zM153,67h1v1h-1zM153,73h1v1h-1zM155,72h1v2h-1zM157,70h1v1h-1zM158,68h1v3h-1zM159,66h1v2h-1zM159,70h1v1h-1zM160,64h1v10h-1zM161,70h1v1h-1zM163,66h1v6h-1zM164,64h1v2h-1zM164,72h1v1h-1zM165,64h1v1h-1zM165,73h1v1h-1zM166,64h1v1h-1zM166,72h1v2h-1zM167,65h1v8h-1zM169,72h1v1h-1zM170,67h1v4h-1zM170,72h1v2h-1zM171,67h1v1h-1zM171,70h1v1h-1zM171,73h1v1h-1zM172,67h1v1h-1zM172,70h1v1h-1zM172,73h1v1h-1zM173,67h1v2h-1zM173,71h1v3h-1zM175,67h1v1h-1zM176,64h1v10h-1zM177,67h1v1h-1zM177,73h1v1h-1zM180,72h1v2h-1z" fill="#dc44dc"/>
<path d="M86,75h113v1h-113z" fill="#dc44dc"/>
<path d="M78,101h1v3h-1zM79,97h1v4h-1zM80,93h1v4h-1zM81,90h1v3h-1zM82,87h1v3h-1zM83,83h1v4h-1zM84,80h1v3h-1zM85,77h1v3h-1zM86,75h1v2h-1z" fill="#dc44dc"/>
<path d="M78,99h1v5h-1zM79,94h1v5h-1zM79,100h1v2h-1zM80,94h1v1h-1zM80,97h1v3h-1zM81,95h1v2h-1z" fill="#dc44dc"/>
<path transform="translate(102.20,81.30) scale(0.854,0.911)" d="M0,9 L0,0 L6.7,9 L6.7,0" stroke="#dc44dc" stroke-width="2.4" stroke-opacity="0.28" fill="none" stroke-linejoin="round" stroke-linecap="round" vector-effect="non-scaling-stroke" shape-rendering="geometricPrecision"/>
<path transform="translate(109.28,81.30) scale(0.854,0.911)" d="M4.9,3 L4.9,9 M4.9,4.4 Q4,3 2.5,3 Q0,3 0,6 Q0,9 2.5,9 Q4,9 4.9,7.6" stroke="#dc44dc" stroke-width="2.4" stroke-opacity="0.28" fill="none" stroke-linejoin="round" stroke-linecap="round" vector-effect="non-scaling-stroke" shape-rendering="geometricPrecision"/>
<path transform="translate(114.75,81.30) scale(0.854,0.911)" d="M0,3 L1.6,9 L3.15,3 L4.7,9 L6.3,3" stroke="#dc44dc" stroke-width="2.4" stroke-opacity="0.28" fill="none" stroke-linejoin="round" stroke-linecap="round" vector-effect="non-scaling-stroke" shape-rendering="geometricPrecision"/>
<path transform="translate(121.58,81.30) scale(0.854,0.911)" d="M0.5,5.3 L6.9,5.3" stroke="#dc44dc" stroke-width="2.4" stroke-opacity="0.28" fill="none" stroke-linejoin="round" stroke-linecap="round" vector-effect="non-scaling-stroke" shape-rendering="geometricPrecision"/>
<path transform="translate(128.40,81.30) scale(0.854,0.911)" d="M0.2,2.4 Q0.2,0 3.1,0 Q6,0 6,2.4 Q6,3.8 4.2,5.4 L0,9 L6.3,9" stroke="#dc44dc" stroke-width="2.4" stroke-opacity="0.28" fill="none" stroke-linejoin="round" stroke-linecap="round" vector-effect="non-scaling-stroke" shape-rendering="geometricPrecision"/>
<path transform="translate(137.41,81.30) scale(0.854,0.911)" d="M0,2.2 L2.8,0 L2.8,9" stroke="#dc44dc" stroke-width="2.4" stroke-opacity="0.28" fill="none" stroke-linejoin="round" stroke-linecap="round" vector-effect="non-scaling-stroke" shape-rendering="geometricPrecision"/>
<path d="M102,81h1v9h-1zM103,82h1v2h-1zM104,84h1v2h-1zM105,86h1v1h-1zM106,87h1v2h-1zM107,81h1v9h-1zM109,84h1v5h-1zM110,84h1v1h-1zM110,89h1v1h-1zM111,84h1v1h-1zM111,89h1v1h-1zM112,84h1v1h-1zM112,88h1v2h-1zM113,84h1v6h-1zM114,84h1v2h-1zM115,86h1v2h-1zM116,87h1v3h-1zM117,84h1v3h-1zM118,87h1v3h-1zM119,86h1v2h-1zM120,84h1v2h-1zM122,86h1v1h-1zM123,86h1v1h-1zM124,86h1v1h-1zM125,86h1v1h-1zM126,86h1v1h-1zM127,86h1v1h-1zM128,82h1v2h-1zM128,89h1v1h-1zM129,81h1v1h-1zM129,88h1v2h-1zM130,81h1v1h-1zM130,87h1v1h-1zM130,89h1v1h-1zM131,81h1v1h-1zM131,86h1v1h-1zM131,89h1v1h-1zM132,81h1v1h-1zM132,85h1v1h-1zM132,89h1v1h-1zM133,82h1v3h-1zM133,89h1v1h-1zM137,83h1v1h-1zM138,82h1v1h-1zM139,81h1v9h-1z" fill="#dc44dc"/>
<path d="M99,92h41v1h-41z" fill="#dc44dc"/>
<path d="M99,92h1v25h-1z" fill="#dc44dc"/>
<path d="M98,108h3v1h-3zM98,108h1v4h-1zM99,112h1v5h-1zM100,108h1v5h-1z" fill="#dc44dc"/>
<path transform="translate(149.20,79.50) scale(0.886,0.889)" d="M0,9 L0,0 L6.7,9 L6.7,0" stroke="#dc44dc" stroke-width="2.4" stroke-opacity="0.28" fill="none" stroke-linejoin="round" stroke-linecap="round" vector-effect="non-scaling-stroke" shape-rendering="geometricPrecision"/>
<path transform="translate(156.56,79.50) scale(0.886,0.889)" d="M4.9,3 L4.9,9 M4.9,4.4 Q4,3 2.5,3 Q0,3 0,6 Q0,9 2.5,9 Q4,9 4.9,7.6" stroke="#dc44dc" stroke-width="2.4" stroke-opacity="0.28" fill="none" stroke-linejoin="round" stroke-linecap="round" vector-effect="non-scaling-stroke" shape-rendering="geometricPrecision"/>
<path transform="translate(162.23,79.50) scale(0.886,0.889)" d="M0,3 L1.6,9 L3.15,3 L4.7,9 L6.3,3" stroke="#dc44dc" stroke-width="2.4" stroke-opacity="0.28" fill="none" stroke-linejoin="round" stroke-linecap="round" vector-effect="non-scaling-stroke" shape-rendering="geometricPrecision"/>
<path transform="translate(169.32,79.50) scale(0.886,0.889)" d="M0.5,5.3 L6.9,5.3" stroke="#dc44dc" stroke-width="2.4" stroke-opacity="0.28" fill="none" stroke-linejoin="round" stroke-linecap="round" vector-effect="non-scaling-stroke" shape-rendering="geometricPrecision"/>
<path transform="translate(176.33,79.50) scale(0.886,0.889)" d="M6.4,3 Q6,5.6 3.2,5.6 Q0,5.6 0,2.8 Q0,0 3.2,0 Q6.4,0 6.4,4 Q6.4,9 3,9 Q1,9 0.4,7.6" stroke="#dc44dc" stroke-width="2.4" stroke-opacity="0.28" fill="none" stroke-linejoin="round" stroke-linecap="round" vector-effect="non-scaling-stroke" shape-rendering="geometricPrecision"/>
<path d="M149,79h1v9h-1zM150,80h1v2h-1zM151,82h1v1h-1zM152,83h1v1h-1zM153,84h1v2h-1zM154,86h1v1h-1zM155,79h1v9h-1zM156,83h1v4h-1zM157,82h1v1h-1zM157,86h1v2h-1zM158,82h1v1h-1zM158,87h1v1h-1zM159,82h1v1h-1zM159,87h1v1h-1zM160,82h1v6h-1zM162,82h1v3h-1zM163,85h1v3h-1zM164,84h1v2h-1zM165,82h1v3h-1zM166,85h1v3h-1zM167,82h1v3h-1zM169,84h1v1h-1zM170,84h1v1h-1zM171,84h1v1h-1zM172,84h1v1h-1zM173,84h1v1h-1zM174,84h1v1h-1zM175,84h1v1h-1zM176,80h1v4h-1zM176,86h1v1h-1zM177,79h1v2h-1zM177,83h1v2h-1zM177,86h1v2h-1zM178,79h1v1h-1zM178,84h1v1h-1zM178,87h1v1h-1zM179,79h1v1h-1zM179,84h1v1h-1zM179,87h1v1h-1zM180,79h1v1h-1zM180,84h1v1h-1zM180,87h1v1h-1zM181,80h1v7h-1zM182,82h1v2h-1z" fill="#dc44dc"/>
<path d="M146,90h34v1h-34z" fill="#dc44dc"/>
<path d="M146,90h1v32h-1z" fill="#dc44dc"/>
<path d="M144,113h4v1h-4zM144,113h1v2h-1zM145,115h1v4h-1zM146,118h1v4h-1zM147,113h1v5h-1z" fill="#dc44dc"/>
<path transform="translate(185.20,82.80) scale(0.861,0.878)" d="M0,9 L0,0 L6.7,9 L6.7,0" stroke="#dc44dc" stroke-width="2.4" stroke-opacity="0.28" fill="none" stroke-linejoin="round" stroke-linecap="round" vector-effect="non-scaling-stroke" shape-rendering="geometricPrecision"/>
<path transform="translate(192.35,82.80) scale(0.861,0.878)" d="M4.9,3 L4.9,9 M4.9,4.4 Q4,3 2.5,3 Q0,3 0,6 Q0,9 2.5,9 Q4,9 4.9,7.6" stroke="#dc44dc" stroke-width="2.4" stroke-opacity="0.28" fill="none" stroke-linejoin="round" stroke-linecap="round" vector-effect="non-scaling-stroke" shape-rendering="geometricPrecision"/>
<path transform="translate(197.86,82.80) scale(0.861,0.878)" d="M0,3 L1.6,9 L3.15,3 L4.7,9 L6.3,3" stroke="#dc44dc" stroke-width="2.4" stroke-opacity="0.28" fill="none" stroke-linejoin="round" stroke-linecap="round" vector-effect="non-scaling-stroke" shape-rendering="geometricPrecision"/>
<path transform="translate(204.74,82.80) scale(0.861,0.878)" d="M0.5,5.3 L6.9,5.3" stroke="#dc44dc" stroke-width="2.4" stroke-opacity="0.28" fill="none" stroke-linejoin="round" stroke-linecap="round" vector-effect="non-scaling-stroke" shape-rendering="geometricPrecision"/>
<path transform="translate(213.27,82.80) scale(0.861,0.878)" d="M0,2.2 L2.8,0 L2.8,9" stroke="#dc44dc" stroke-width="2.4" stroke-opacity="0.28" fill="none" stroke-linejoin="round" stroke-linecap="round" vector-effect="non-scaling-stroke" shape-rendering="geometricPrecision"/>
<path transform="translate(219.08,82.80) scale(0.861,0.878)" d="M0.2,2.4 Q0.2,0 3.1,0 Q6,0 6,2.4 Q6,3.8 4.2,5.4 L0,9 L6.3,9" stroke="#dc44dc" stroke-width="2.4" stroke-opacity="0.28" fill="none" stroke-linejoin="round" stroke-linecap="round" vector-effect="non-scaling-stroke" shape-rendering="geometricPrecision"/>
<path d="M185,82h1v9h-1zM186,83h1v2h-1zM187,85h1v2h-1zM188,87h1v1h-1zM189,88h1v2h-1zM190,82h1v9h-1zM192,86h1v5h-1zM193,85h1v1h-1zM193,90h1v1h-1zM194,85h1v1h-1zM194,90h1v1h-1zM195,85h1v1h-1zM195,90h1v1h-1zM196,85h1v6h-1zM197,85h1v2h-1zM198,87h1v2h-1zM199,88h1v3h-1zM200,85h1v3h-1zM201,88h1v3h-1zM202,87h1v2h-1zM203,85h1v2h-1zM205,87h1v1h-1zM206,87h1v1h-1zM207,87h1v1h-1zM208,87h1v1h-1zM209,87h1v1h-1zM210,87h1v1h-1zM213,84h1v1h-1zM214,83h1v1h-1zM215,82h1v9h-1zM219,83h1v2h-1zM219,90h1v1h-1zM220,82h1v2h-1zM220,89h1v2h-1zM221,82h1v1h-1zM221,88h1v1h-1zM221,90h1v1h-1zM222,82h1v1h-1zM222,87h1v1h-1zM222,90h1v1h-1zM223,83h1v1h-1zM223,86h1v2h-1zM223,90h1v1h-1zM224,84h1v2h-1zM224,90h1v1h-1z" fill="#dc44dc"/>
<path d="M183,93h34v1h-34z" fill="#dc44dc"/>
<path d="M183,93h1v29h-1z" fill="#dc44dc"/>
<path d="M181,113h4v1h-4zM181,113h1v2h-1zM182,115h1v4h-1zM183,118h1v4h-1zM184,113h1v5h-1z" fill="#dc44dc"/>
<path transform="translate(207.50,180.70) scale(0.851,0.856)" d="M0,9 L0,0 L6.7,9 L6.7,0" stroke="#dc44dc" stroke-width="2.4" stroke-opacity="0.28" fill="none" stroke-linejoin="round" stroke-linecap="round" vector-effect="non-scaling-stroke" shape-rendering="geometricPrecision"/>
<path transform="translate(214.57,180.70) scale(0.851,0.856)" d="M4.9,3 L4.9,9 M4.9,4.4 Q4,3 2.5,3 Q0,3 0,6 Q0,9 2.5,9 Q4,9 4.9,7.6" stroke="#dc44dc" stroke-width="2.4" stroke-opacity="0.28" fill="none" stroke-linejoin="round" stroke-linecap="round" vector-effect="non-scaling-stroke" shape-rendering="geometricPrecision"/>
<path transform="translate(220.01,180.70) scale(0.851,0.856)" d="M0,3 L1.6,9 L3.15,3 L4.7,9 L6.3,3" stroke="#dc44dc" stroke-width="2.4" stroke-opacity="0.28" fill="none" stroke-linejoin="round" stroke-linecap="round" vector-effect="non-scaling-stroke" shape-rendering="geometricPrecision"/>
<path transform="translate(226.82,180.70) scale(0.851,0.856)" d="M0.5,5.3 L6.9,5.3" stroke="#dc44dc" stroke-width="2.4" stroke-opacity="0.28" fill="none" stroke-linejoin="round" stroke-linecap="round" vector-effect="non-scaling-stroke" shape-rendering="geometricPrecision"/>
<path transform="translate(235.25,180.70) scale(0.851,0.856)" d="M0,2.2 L2.8,0 L2.8,9" stroke="#dc44dc" stroke-width="2.4" stroke-opacity="0.28" fill="none" stroke-linejoin="round" stroke-linecap="round" vector-effect="non-scaling-stroke" shape-rendering="geometricPrecision"/>
<path transform="translate(242.62,180.70) scale(0.851,0.856)" d="M0,2.2 L2.8,0 L2.8,9" stroke="#dc44dc" stroke-width="2.4" stroke-opacity="0.28" fill="none" stroke-linejoin="round" stroke-linecap="round" vector-effect="non-scaling-stroke" shape-rendering="geometricPrecision"/>
<path d="M207,180h1v9h-1zM208,181h1v2h-1zM209,183h1v1h-1zM210,184h1v1h-1zM211,185h1v2h-1zM212,187h1v1h-1zM213,180h1v9h-1zM214,184h1v4h-1zM215,183h1v1h-1zM215,187h1v2h-1zM216,183h1v1h-1zM216,188h1v1h-1zM217,183h1v1h-1zM217,188h1v1h-1zM218,183h1v6h-1zM220,183h1v3h-1zM221,186h1v3h-1zM222,183h1v3h-1zM223,185h1v2h-1zM224,186h1v3h-1zM225,183h1v3h-1zM227,185h1v1h-1zM228,185h1v1h-1zM229,185h1v1h-1zM230,185h1v1h-1zM231,185h1v1h-1zM232,185h1v1h-1zM235,182h1v1h-1zM236,181h1v1h-1zM237,180h1v9h-1zM242,182h1v1h-1zM243,181h1v1h-1zM244,180h1v9h-1z" fill="#dc44dc"/>
<path transform="translate(207.50,194.50) scale(0.837,0.856)" d="M0,9 L0,0 L6.7,9 L6.7,0" stroke="#dc44dc" stroke-width="2.4" stroke-opacity="0.28" fill="none" stroke-linejoin="round" stroke-linecap="round" vector-effect="non-scaling-stroke" shape-rendering="geometricPrecision"/>
<path transform="translate(214.45,194.50) scale(0.837,0.856)" d="M4.9,3 L4.9,9 M4.9,4.4 Q4,3 2.5,3 Q0,3 0,6 Q0,9 2.5,9 Q4,9 4.9,7.6" stroke="#dc44dc" stroke-width="2.4" stroke-opacity="0.28" fill="none" stroke-linejoin="round" stroke-linecap="round" vector-effect="non-scaling-stroke" shape-rendering="geometricPrecision"/>
<path transform="translate(219.81,194.50) scale(0.837,0.856)" d="M0,3 L1.6,9 L3.15,3 L4.7,9 L6.3,3" stroke="#dc44dc" stroke-width="2.4" stroke-opacity="0.28" fill="none" stroke-linejoin="round" stroke-linecap="round" vector-effect="non-scaling-stroke" shape-rendering="geometricPrecision"/>
<path transform="translate(226.50,194.50) scale(0.837,0.856)" d="M0.5,5.3 L6.9,5.3" stroke="#dc44dc" stroke-width="2.4" stroke-opacity="0.28" fill="none" stroke-linejoin="round" stroke-linecap="round" vector-effect="non-scaling-stroke" shape-rendering="geometricPrecision"/>
<path transform="translate(234.79,194.50) scale(0.837,0.856)" d="M0,2.2 L2.8,0 L2.8,9" stroke="#dc44dc" stroke-width="2.4" stroke-opacity="0.28" fill="none" stroke-linejoin="round" stroke-linecap="round" vector-effect="non-scaling-stroke" shape-rendering="geometricPrecision"/>
<path transform="translate(241.37,194.50) scale(0.837,0.856)" d="M2.35,0 Q0,0 0,4.5 Q0,9 2.35,9 Q4.7,9 4.7,4.5 Q4.7,0 2.35,0" stroke="#dc44dc" stroke-width="2.4" stroke-opacity="0.28" fill="none" stroke-linejoin="round" stroke-linecap="round" vector-effect="non-scaling-stroke" shape-rendering="geometricPrecision"/>
<path d="M207,194h1v9h-1zM208,195h1v2h-1zM209,197h1v1h-1zM210,198h1v1h-1zM211,199h1v2h-1zM212,201h1v1h-1zM213,194h1v9h-1zM214,197h1v5h-1zM215,197h1v1h-1zM215,201h1v2h-1zM216,197h1v1h-1zM216,202h1v1h-1zM217,197h1v1h-1zM217,201h1v2h-1zM218,197h1v6h-1zM219,197h1v2h-1zM220,199h1v2h-1zM221,200h1v3h-1zM222,197h1v3h-1zM223,200h1v3h-1zM224,199h1v2h-1zM225,197h1v2h-1zM226,199h1v1h-1zM227,199h1v1h-1zM228,199h1v1h-1zM229,199h1v1h-1zM230,199h1v1h-1zM231,199h1v1h-1zM232,199h1v1h-1zM234,196h1v1h-1zM235,195h1v1h-1zM236,195h1v1h-1zM237,194h1v9h-1zM241,195h1v7h-1zM242,194h1v1h-1zM242,201h1v2h-1zM243,194h1v1h-1zM243,202h1v1h-1zM244,194h1v2h-1zM244,201h1v1h-1zM245,196h1v5h-1z" fill="#dc44dc"/>
<path d="M204,191h42v1h-42zM204,191h1v15h-1zM204,205h42v1h-42z" fill="#dc44dc"/>
<path d="M147,193h3v1h-3zM150,194h5v1h-5zM155,195h4v1h-4zM159,196h5v1h-5zM164,197h5v1h-5zM169,198h5v1h-5zM174,199h4v1h-4zM178,200h5v1h-5zM183,201h5v1h-5zM188,202h5v1h-5zM193,203h4v1h-4zM197,204h5v1h-5zM202,205h3v1h-3z" fill="#dc44dc"/>
<path d="M147,193h10v1h-10zM156,193h1v3h-1zM147,193h3v1h-3zM150,194h4v1h-4zM154,195h3v1h-3z" fill="#dc44dc"/>
<path transform="translate(282.60,205.90) scale(0.830,0.856)" d="M0,9 L0,0 L6.7,9 L6.7,0" stroke="#dc44dc" stroke-width="2.4" stroke-opacity="0.28" fill="none" stroke-linejoin="round" stroke-linecap="round" vector-effect="non-scaling-stroke" shape-rendering="geometricPrecision"/>
<path transform="translate(289.49,205.90) scale(0.830,0.856)" d="M4.9,3 L4.9,9 M4.9,4.4 Q4,3 2.5,3 Q0,3 0,6 Q0,9 2.5,9 Q4,9 4.9,7.6" stroke="#dc44dc" stroke-width="2.4" stroke-opacity="0.28" fill="none" stroke-linejoin="round" stroke-linecap="round" vector-effect="non-scaling-stroke" shape-rendering="geometricPrecision"/>
<path transform="translate(294.80,205.90) scale(0.830,0.856)" d="M0,3 L1.6,9 L3.15,3 L4.7,9 L6.3,3" stroke="#dc44dc" stroke-width="2.4" stroke-opacity="0.28" fill="none" stroke-linejoin="round" stroke-linecap="round" vector-effect="non-scaling-stroke" shape-rendering="geometricPrecision"/>
<path transform="translate(301.45,205.90) scale(0.830,0.856)" d="M0.5,5.3 L6.9,5.3" stroke="#dc44dc" stroke-width="2.4" stroke-opacity="0.28" fill="none" stroke-linejoin="round" stroke-linecap="round" vector-effect="non-scaling-stroke" shape-rendering="geometricPrecision"/>
<path transform="translate(309.67,205.90) scale(0.830,0.856)" d="M0,2.2 L2.8,0 L2.8,9" stroke="#dc44dc" stroke-width="2.4" stroke-opacity="0.28" fill="none" stroke-linejoin="round" stroke-linecap="round" vector-effect="non-scaling-stroke" shape-rendering="geometricPrecision"/>
<path transform="translate(315.19,205.90) scale(0.830,0.856)" d="M6,1.4 Q5.4,0 3.4,0 Q0,0 0,5 Q0,9 3.2,9 Q6.4,9 6.4,6.2 Q6.4,3.6 3.2,3.6 Q0.4,3.6 0,6.2" stroke="#dc44dc" stroke-width="2.4" stroke-opacity="0.28" fill="none" stroke-linejoin="round" stroke-linecap="round" vector-effect="non-scaling-stroke" shape-rendering="geometricPrecision"/>
<path d="M282,205h1v9h-1zM283,206h1v2h-1zM284,208h1v1h-1zM285,209h1v1h-1zM286,210h1v2h-1zM287,212h1v1h-1zM288,205h1v9h-1zM289,209h1v4h-1zM290,208h1v2h-1zM290,212h1v2h-1zM291,208h1v1h-1zM291,213h1v1h-1zM292,208h1v1h-1zM292,213h1v1h-1zM293,208h1v6h-1zM294,208h1v2h-1zM295,210h1v2h-1zM296,211h1v3h-1zM297,208h1v3h-1zM298,211h1v3h-1zM299,210h1v2h-1zM300,208h1v2h-1zM301,210h1v1h-1zM302,210h1v1h-1zM303,210h1v1h-1zM304,210h1v1h-1zM305,210h1v1h-1zM306,210h1v1h-1zM307,210h1v1h-1zM309,207h1v1h-1zM310,206h1v1h-1zM311,205h1v9h-1zM315,206h1v7h-1zM316,206h1v1h-1zM316,209h1v1h-1zM316,213h1v1h-1zM317,206h1v1h-1zM317,208h1v2h-1zM317,213h1v1h-1zM318,205h1v2h-1zM318,209h1v1h-1zM318,213h1v1h-1zM319,206h1v1h-1zM319,209h1v1h-1zM319,213h1v1h-1zM320,207h1v1h-1zM320,209h1v4h-1z" fill="#dc44dc"/>
<path d="M279,216h40v1h-40z" fill="#dc44dc"/>
<path d="M319,216h1v52h-1z" fill="#dc44dc"/>
<path d="M317,259h4v1h-4zM317,259h1v2h-1zM318,261h1v4h-1zM319,264h1v4h-1zM320,259h1v5h-1z" fill="#dc44dc"/>
<path transform="translate(247.30,222.70) scale(0.867,0.856)" d="M0,9 L0,0 L6.7,9 L6.7,0" stroke="#dc44dc" stroke-width="2.4" stroke-opacity="0.28" fill="none" stroke-linejoin="round" stroke-linecap="round" vector-effect="non-scaling-stroke" shape-rendering="geometricPrecision"/>
<path transform="translate(254.50,222.70) scale(0.867,0.856)" d="M4.9,3 L4.9,9 M4.9,4.4 Q4,3 2.5,3 Q0,3 0,6 Q0,9 2.5,9 Q4,9 4.9,7.6" stroke="#dc44dc" stroke-width="2.4" stroke-opacity="0.28" fill="none" stroke-linejoin="round" stroke-linecap="round" vector-effect="non-scaling-stroke" shape-rendering="geometricPrecision"/>
<path transform="translate(260.05,222.70) scale(0.867,0.856)" d="M0,3 L1.6,9 L3.15,3 L4.7,9 L6.3,3" stroke="#dc44dc" stroke-width="2.4" stroke-opacity="0.28" fill="none" stroke-linejoin="round" stroke-linecap="round" vector-effect="non-scaling-stroke" shape-rendering="geometricPrecision"/>
<path transform="translate(266.99,222.70) scale(0.867,0.856)" d="M0.5,5.3 L6.9,5.3" stroke="#dc44dc" stroke-width="2.4" stroke-opacity="0.28" fill="none" stroke-linejoin="round" stroke-linecap="round" vector-effect="non-scaling-stroke" shape-rendering="geometricPrecision"/>
<path transform="translate(275.58,222.70) scale(0.867,0.856)" d="M0,2.2 L2.8,0 L2.8,9" stroke="#dc44dc" stroke-width="2.4" stroke-opacity="0.28" fill="none" stroke-linejoin="round" stroke-linecap="round" vector-effect="non-scaling-stroke" shape-rendering="geometricPrecision"/>
<path transform="translate(281.35,222.70) scale(0.867,0.856)" d="M0,0 L6.4,0 L2.1,9" stroke="#dc44dc" stroke-width="2.4" stroke-opacity="0.28" fill="none" stroke-linejoin="round" stroke-linecap="round" vector-effect="non-scaling-stroke" shape-rendering="geometricPrecision"/>
<path d="M247,222h1v9h-1zM248,223h1v2h-1zM249,225h1v1h-1zM250,226h1v1h-1zM251,227h1v2h-1zM252,229h1v1h-1zM253,222h1v9h-1zM254,226h1v4h-1zM255,225h1v1h-1zM255,229h1v2h-1zM256,225h1v1h-1zM256,230h1v1h-1zM257,225h1v1h-1zM257,230h1v1h-1zM258,225h1v6h-1zM260,225h1v3h-1zM261,228h1v3h-1zM262,225h1v3h-1zM263,227h1v2h-1zM264,228h1v3h-1zM265,225h1v3h-1zM267,227h1v1h-1zM268,227h1v1h-1zM269,227h1v1h-1zM270,227h1v1h-1zM271,227h1v1h-1zM272,227h1v1h-1zM275,224h1v1h-1zM276,223h1v1h-1zM277,223h1v1h-1zM278,222h1v9h-1zM281,222h1v1h-1zM282,222h1v1h-1zM283,222h1v1h-1zM283,229h1v2h-1zM284,222h1v1h-1zM284,227h1v2h-1zM285,222h1v1h-1zM285,224h1v3h-1zM286,222h1v2h-1z" fill="#dc44dc"/>
<path d="M244,233h40v1h-40z" fill="#dc44dc"/>
<path d="M284,233h1v2h-1zM285,235h1v2h-1zM286,237h1v3h-1zM287,240h1v3h-1zM288,243h1v2h-1zM289,245h1v3h-1zM290,248h1v3h-1zM291,251h1v2h-1zM292,253h1v3h-1zM293,256h1v2h-1zM294,258h1v3h-1zM295,261h1v3h-1zM296,264h1v2h-1zM297,266h1v2h-1z" fill="#dc44dc"/>
<path d="M293,260h1v1h-1zM294,260h1v3h-1zM295,259h1v3h-1zM295,263h1v2h-1zM296,262h1v5h-1zM297,266h1v2h-1z" fill="#dc44dc"/>
<path transform="translate(378.50,103.50) scale(0.859,0.889)" d="M0,9 L0,0 L6.7,9 L6.7,0" stroke="#dc44dc" stroke-width="2.4" stroke-opacity="0.28" fill="none" stroke-linejoin="round" stroke-linecap="round" vector-effect="non-scaling-stroke" shape-rendering="geometricPrecision"/>
<path transform="translate(385.63,103.50) scale(0.859,0.889)" d="M4.9,3 L4.9,9 M4.9,4.4 Q4,3 2.5,3 Q0,3 0,6 Q0,9 2.5,9 Q4,9 4.9,7.6" stroke="#dc44dc" stroke-width="2.4" stroke-opacity="0.28" fill="none" stroke-linejoin="round" stroke-linecap="round" vector-effect="non-scaling-stroke" shape-rendering="geometricPrecision"/>
<path transform="translate(391.12,103.50) scale(0.859,0.889)" d="M0,3 L1.6,9 L3.15,3 L4.7,9 L6.3,3" stroke="#dc44dc" stroke-width="2.4" stroke-opacity="0.28" fill="none" stroke-linejoin="round" stroke-linecap="round" vector-effect="non-scaling-stroke" shape-rendering="geometricPrecision"/>
<path transform="translate(397.99,103.50) scale(0.859,0.889)" d="M0.5,5.3 L6.9,5.3" stroke="#dc44dc" stroke-width="2.4" stroke-opacity="0.28" fill="none" stroke-linejoin="round" stroke-linecap="round" vector-effect="non-scaling-stroke" shape-rendering="geometricPrecision"/>
<path transform="translate(406.49,103.50) scale(0.859,0.889)" d="M0,2.2 L2.8,0 L2.8,9" stroke="#dc44dc" stroke-width="2.4" stroke-opacity="0.28" fill="none" stroke-linejoin="round" stroke-linecap="round" vector-effect="non-scaling-stroke" shape-rendering="geometricPrecision"/>
<path transform="translate(412.20,103.50) scale(0.859,0.889)" d="M0.4,0 L6.1,0 L2.8,3.6 Q6.4,3.6 6.4,6.3 Q6.4,9 3.2,9 Q0.7,9 0,7.4" stroke="#dc44dc" stroke-width="2.4" stroke-opacity="0.28" fill="none" stroke-linejoin="round" stroke-linecap="round" vector-effect="non-scaling-stroke" shape-rendering="geometricPrecision"/>
<path d="M378,103h1v9h-1zM379,104h1v2h-1zM380,106h1v1h-1zM381,107h1v1h-1zM382,108h1v2h-1zM383,110h1v1h-1zM384,103h1v9h-1zM385,107h1v4h-1zM386,106h1v1h-1zM386,110h1v2h-1zM387,106h1v1h-1zM387,111h1v1h-1zM388,106h1v1h-1zM388,111h1v1h-1zM389,106h1v6h-1zM391,106h1v3h-1zM392,109h1v3h-1zM393,106h1v3h-1zM394,108h1v2h-1zM395,109h1v3h-1zM396,106h1v3h-1zM398,108h1v1h-1zM399,108h1v1h-1zM400,108h1v1h-1zM401,108h1v1h-1zM402,108h1v1h-1zM403,108h1v1h-1zM406,105h1v1h-1zM407,104h1v1h-1zM408,103h1v9h-1zM412,103h1v1h-1zM412,110h1v1h-1zM413,103h1v1h-1zM413,111h1v1h-1zM414,103h1v1h-1zM414,106h1v1h-1zM414,111h1v1h-1zM415,103h1v1h-1zM415,105h1v2h-1zM415,111h1v1h-1zM416,103h1v2h-1zM416,106h1v2h-1zM416,111h1v1h-1zM417,103h1v1h-1zM417,107h1v4h-1z" fill="#dc44dc"/>
<path d="M380,114h42v1h-42z" fill="#dc44dc"/>
<path d="M380,114h1v1h-1zM379,115h1v1h-1zM377,116h2v1h-2zM376,117h1v1h-1zM375,118h1v1h-1zM373,119h2v1h-2zM372,120h1v1h-1zM371,121h1v1h-1zM370,122h1v1h-1zM368,123h2v1h-2zM367,124h1v1h-1zM366,125h1v1h-1zM364,126h2v1h-2zM363,127h1v1h-1zM362,128h1v1h-1zM361,129h1v1h-1zM359,130h2v1h-2zM358,131h1v1h-1zM357,132h1v1h-1zM355,133h2v1h-2zM354,134h1v1h-1zM353,135h1v1h-1z" fill="#dc44dc"/>
<path d="M358,129h1v1h-1zM357,130h1v1h-1zM359,130h1v1h-1zM356,131h1v1h-1zM360,131h1v1h-1zM355,132h1v1h-1zM358,132h2v1h-2zM355,133h3v1h-3zM354,134h2v1h-2zM353,135h1v1h-1z" fill="#dc44dc"/>
<path transform="translate(394.30,163.80) scale(0.848,0.878)" d="M0,9 L0,0 L6.7,9 L6.7,0" stroke="#dc44dc" stroke-width="2.4" stroke-opacity="0.28" fill="none" stroke-linejoin="round" stroke-linecap="round" vector-effect="non-scaling-stroke" shape-rendering="geometricPrecision"/>
<path transform="translate(401.34,163.80) scale(0.848,0.878)" d="M4.9,3 L4.9,9 M4.9,4.4 Q4,3 2.5,3 Q0,3 0,6 Q0,9 2.5,9 Q4,9 4.9,7.6" stroke="#dc44dc" stroke-width="2.4" stroke-opacity="0.28" fill="none" stroke-linejoin="round" stroke-linecap="round" vector-effect="non-scaling-stroke" shape-rendering="geometricPrecision"/>
<path transform="translate(406.77,163.80) scale(0.848,0.878)" d="M0,3 L1.6,9 L3.15,3 L4.7,9 L6.3,3" stroke="#dc44dc" stroke-width="2.4" stroke-opacity="0.28" fill="none" stroke-linejoin="round" stroke-linecap="round" vector-effect="non-scaling-stroke" shape-rendering="geometricPrecision"/>
<path transform="translate(413.56,163.80) scale(0.848,0.878)" d="M0.5,5.3 L6.9,5.3" stroke="#dc44dc" stroke-width="2.4" stroke-opacity="0.28" fill="none" stroke-linejoin="round" stroke-linecap="round" vector-effect="non-scaling-stroke" shape-rendering="geometricPrecision"/>
<path transform="translate(421.96,163.80) scale(0.848,0.878)" d="M0,2.2 L2.8,0 L2.8,9" stroke="#dc44dc" stroke-width="2.4" stroke-opacity="0.28" fill="none" stroke-linejoin="round" stroke-linecap="round" vector-effect="non-scaling-stroke" shape-rendering="geometricPrecision"/>
<path transform="translate(427.60,163.80) scale(0.848,0.878)" d="M4.6,0 L0,6.2 L6.6,6.2 M4.6,0 L4.6,9" stroke="#dc44dc" stroke-width="2.4" stroke-opacity="0.28" fill="none" stroke-linejoin="round" stroke-linecap="round" vector-effect="non-scaling-stroke" shape-rendering="geometricPrecision"/>
<path d="M394,163h1v9h-1zM395,164h1v2h-1zM396,166h1v2h-1zM397,168h1v1h-1zM398,169h1v2h-1zM399,163h1v9h-1zM401,167h1v5h-1zM402,166h1v1h-1zM402,171h1v1h-1zM403,166h1v1h-1zM403,171h1v1h-1zM404,166h1v1h-1zM404,171h1v1h-1zM405,166h1v6h-1zM406,166h1v2h-1zM407,168h1v2h-1zM408,169h1v3h-1zM409,166h1v3h-1zM410,169h1v3h-1zM411,168h1v2h-1zM412,166h1v2h-1zM413,168h1v1h-1zM414,168h1v1h-1zM415,168h1v1h-1zM416,168h1v1h-1zM417,168h1v1h-1zM418,168h1v1h-1zM419,168h1v1h-1zM421,165h1v1h-1zM422,164h1v1h-1zM423,164h1v1h-1zM424,163h1v9h-1zM427,169h1v1h-1zM428,167h1v3h-1zM429,166h1v1h-1zM429,169h1v1h-1zM430,164h1v2h-1zM430,169h1v1h-1zM431,163h1v9h-1zM432,169h1v1h-1zM433,169h1v1h-1z" fill="#dc44dc"/>
<path d="M391,174h41v1h-41z" fill="#dc44dc"/>
<path d="M391,174h1v1h-1zM390,175h1v1h-1zM388,176h2v1h-2zM387,177h1v1h-1zM386,178h1v1h-1zM384,179h2v1h-2zM383,180h1v1h-1zM382,181h1v1h-1zM381,182h1v1h-1zM379,183h2v1h-2zM378,184h1v1h-1zM377,185h1v1h-1zM375,186h2v1h-2zM374,187h1v1h-1zM373,188h1v1h-1zM372,189h1v1h-1zM370,190h2v1h-2zM369,191h1v1h-1zM368,192h1v1h-1zM366,193h2v1h-2zM365,194h1v1h-1zM364,195h1v1h-1z" fill="#dc44dc"/>
<path d="M369,189h1v1h-1zM368,190h1v1h-1zM370,190h1v1h-1zM367,191h1v1h-1zM371,191h1v1h-1zM366,192h1v1h-1zM369,192h2v1h-2zM366,193h3v1h-3zM365,194h2v1h-2zM364,195h1v1h-1z" fill="#dc44dc"/>
<path transform="translate(404.30,189.50) scale(0.863,0.889)" d="M0,9 L0,0 L6.7,9 L6.7,0" stroke="#dc44dc" stroke-width="2.4" stroke-opacity="0.28" fill="none" stroke-linejoin="round" stroke-linecap="round" vector-effect="non-scaling-stroke" shape-rendering="geometricPrecision"/>
<path transform="translate(411.46,189.50) scale(0.863,0.889)" d="M4.9,3 L4.9,9 M4.9,4.4 Q4,3 2.5,3 Q0,3 0,6 Q0,9 2.5,9 Q4,9 4.9,7.6" stroke="#dc44dc" stroke-width="2.4" stroke-opacity="0.28" fill="none" stroke-linejoin="round" stroke-linecap="round" vector-effect="non-scaling-stroke" shape-rendering="geometricPrecision"/>
<path transform="translate(416.99,189.50) scale(0.863,0.889)" d="M0,3 L1.6,9 L3.15,3 L4.7,9 L6.3,3" stroke="#dc44dc" stroke-width="2.4" stroke-opacity="0.28" fill="none" stroke-linejoin="round" stroke-linecap="round" vector-effect="non-scaling-stroke" shape-rendering="geometricPrecision"/>
<path transform="translate(423.89,189.50) scale(0.863,0.889)" d="M0.5,5.3 L6.9,5.3" stroke="#dc44dc" stroke-width="2.4" stroke-opacity="0.28" fill="none" stroke-linejoin="round" stroke-linecap="round" vector-effect="non-scaling-stroke" shape-rendering="geometricPrecision"/>
<path transform="translate(432.44,189.50) scale(0.863,0.889)" d="M0,2.2 L2.8,0 L2.8,9" stroke="#dc44dc" stroke-width="2.4" stroke-opacity="0.28" fill="none" stroke-linejoin="round" stroke-linecap="round" vector-effect="non-scaling-stroke" shape-rendering="geometricPrecision"/>
<path transform="translate(438.18,189.50) scale(0.863,0.889)" d="M5.8,0 L0.8,0 L0.3,4 Q1.4,3.2 3.2,3.2 Q6.4,3.2 6.4,6.1 Q6.4,9 3.2,9 Q0.7,9 0,7.4" stroke="#dc44dc" stroke-width="2.4" stroke-opacity="0.28" fill="none" stroke-linejoin="round" stroke-linecap="round" vector-effect="non-scaling-stroke" shape-rendering="geometricPrecision"/>
<path d="M404,189h1v9h-1zM405,190h1v2h-1zM406,192h1v1h-1zM407,193h1v1h-1zM408,194h1v2h-1zM409,196h1v1h-1zM410,189h1v9h-1zM411,193h1v4h-1zM412,192h1v1h-1zM412,196h1v2h-1zM413,192h1v1h-1zM413,197h1v1h-1zM414,192h1v1h-1zM414,197h1v1h-1zM415,192h1v6h-1zM416,192h1v2h-1zM417,194h1v2h-1zM418,195h1v3h-1zM419,192h1v3h-1zM420,194h1v2h-1zM421,195h1v3h-1zM422,192h1v3h-1zM424,194h1v1h-1zM425,194h1v1h-1zM426,194h1v1h-1zM427,194h1v1h-1zM428,194h1v1h-1zM429,194h1v1h-1zM432,191h1v1h-1zM433,190h1v1h-1zM434,189h1v9h-1zM438,189h1v5h-1zM438,196h1v1h-1zM439,189h1v1h-1zM439,192h1v1h-1zM439,197h1v1h-1zM440,189h1v1h-1zM440,192h1v1h-1zM440,197h1v1h-1zM441,189h1v1h-1zM441,192h1v1h-1zM441,197h1v1h-1zM442,189h1v1h-1zM442,192h1v1h-1zM442,197h1v1h-1zM443,189h1v1h-1zM443,192h1v5h-1z" fill="#dc44dc"/>
<path d="M402,200h40v1h-40z" fill="#dc44dc"/>
<path d="M362,270h1v1h-1zM363,268h1v2h-1zM364,266h1v2h-1zM365,264h1v2h-1zM366,263h1v1h-1zM367,261h1v2h-1zM368,259h1v2h-1zM369,257h1v2h-1zM370,256h1v1h-1zM371,254h1v2h-1zM372,252h1v2h-1zM373,250h1v2h-1zM374,249h1v1h-1zM375,247h1v2h-1zM376,245h1v2h-1zM377,243h1v2h-1zM378,242h1v1h-1zM379,240h1v2h-1zM380,238h1v2h-1zM381,236h1v2h-1zM382,235h1v1h-1zM383,233h1v2h-1zM384,231h1v2h-1zM385,229h1v2h-1zM386,228h1v1h-1zM387,226h1v2h-1zM388,224h1v2h-1zM389,222h1v2h-1zM390,221h1v1h-1zM391,219h1v2h-1zM392,217h1v2h-1zM393,215h1v2h-1zM394,214h1v1h-1zM395,212h1v2h-1zM396,210h1v2h-1zM397,208h1v2h-1zM398,207h1v1h-1zM399,205h1v2h-1zM400,203h1v2h-1zM401,201h1v2h-1zM402,200h1v1h-1z" fill="#dc44dc"/>
<path d="M362,269h1v2h-1zM363,266h1v4h-1zM364,264h1v2h-1zM364,268h1v1h-1zM365,262h1v2h-1zM365,266h1v2h-1zM366,263h1v1h-1zM366,265h1v1h-1zM367,264h1v1h-1z" fill="#dc44dc"/>
<path transform="translate(499.00,217.50) scale(0.861,0.967)" d="M0,0 L1.6,9 L3.25,0 L4.9,9 L6.5,0" stroke="#dc44dc" stroke-width="2.4" stroke-opacity="0.28" fill="none" stroke-linejoin="round" stroke-linecap="round" vector-effect="non-scaling-stroke" shape-rendering="geometricPrecision"/>
<path transform="translate(504.85,217.50) scale(0.861,0.967)" d="M0,3 L2.85,9 M5.7,3 L2.85,9 L1.9,10.6 L0.5,11.2" stroke="#dc44dc" stroke-width="2.4" stroke-opacity="0.28" fill="none" stroke-linejoin="round" stroke-linecap="round" vector-effect="non-scaling-stroke" shape-rendering="geometricPrecision"/>
<path transform="translate(511.05,217.50) scale(0.861,0.967)" d="M0,3 L1.6,9 L3.15,3 L4.7,9 L6.3,3" stroke="#dc44dc" stroke-width="2.4" stroke-opacity="0.28" fill="none" stroke-linejoin="round" stroke-linecap="round" vector-effect="non-scaling-stroke" shape-rendering="geometricPrecision"/>
<path transform="translate(517.94,217.50) scale(0.861,0.967)" d="M0.5,5.3 L6.9,5.3" stroke="#dc44dc" stroke-width="2.4" stroke-opacity="0.28" fill="none" stroke-linejoin="round" stroke-linecap="round" vector-effect="non-scaling-stroke" shape-rendering="geometricPrecision"/>
<path transform="translate(526.46,217.50) scale(0.861,0.967)" d="M0,2.2 L2.8,0 L2.8,9" stroke="#dc44dc" stroke-width="2.4" stroke-opacity="0.28" fill="none" stroke-linejoin="round" stroke-linecap="round" vector-effect="non-scaling-stroke" shape-rendering="geometricPrecision"/>
<path transform="translate(532.19,217.50) scale(0.861,0.967)" d="M0,0 L6.4,0 L2.1,9" stroke="#dc44dc" stroke-width="2.4" stroke-opacity="0.28" fill="none" stroke-linejoin="round" stroke-linecap="round" vector-effect="non-scaling-stroke" shape-rendering="geometricPrecision"/>
<path d="M499,217h1v5h-1zM500,222h1v5h-1zM501,217h1v5h-1zM502,220h1v4h-1zM503,222h1v5h-1zM504,217h1v5h-1zM505,222h1v2h-1zM505,228h1v1h-1zM506,224h1v2h-1zM506,227h1v1h-1zM507,225h1v2h-1zM508,222h1v3h-1zM509,220h1v2h-1zM511,220h1v4h-1zM512,223h1v4h-1zM513,220h1v3h-1zM514,222h1v3h-1zM515,223h1v4h-1zM516,220h1v3h-1zM518,222h1v1h-1zM519,222h1v1h-1zM520,222h1v1h-1zM521,222h1v1h-1zM522,222h1v1h-1zM523,222h1v1h-1zM526,219h1v1h-1zM527,218h1v1h-1zM528,217h1v10h-1zM532,217h1v1h-1zM533,217h1v1h-1zM533,225h1v2h-1zM534,217h1v1h-1zM534,223h1v2h-1zM535,217h1v1h-1zM535,221h1v2h-1zM536,217h1v1h-1zM536,219h1v2h-1zM537,217h1v2h-1z" fill="#dc44dc"/>
<path d="M496,228h41v1h-41z" fill="#dc44dc"/>
<path d="M537,228h1v1h-1zM538,229h1v2h-1zM539,231h1v2h-1zM540,233h1v2h-1zM541,235h1v2h-1zM542,237h1v2h-1zM543,239h1v2h-1zM544,241h1v2h-1zM545,243h1v2h-1zM546,245h1v2h-1zM547,247h1v2h-1zM548,249h1v2h-1zM549,251h1v2h-1zM550,253h1v2h-1zM551,255h1v2h-1zM552,257h1v2h-1zM553,259h1v2h-1zM554,261h1v2h-1zM555,263h1v2h-1zM556,265h1v2h-1zM557,267h1v2h-1zM558,269h1v1h-1z" fill="#dc44dc"/>
<path d="M553,262h1v1h-1zM554,262h1v3h-1zM555,261h1v2h-1zM555,265h1v1h-1zM556,263h1v4h-1zM557,266h1v3h-1zM558,268h1v2h-1z" fill="#dc44dc"/>
<path transform="translate(589.20,4.70) scale(0.861,0.889)" d="M0,0 L1.6,9 L3.25,0 L4.9,9 L6.5,0" stroke="#dc44dc" stroke-width="2.4" stroke-opacity="0.28" fill="none" stroke-linejoin="round" stroke-linecap="round" vector-effect="non-scaling-stroke" shape-rendering="geometricPrecision"/>
<path transform="translate(595.05,4.70) scale(0.861,0.889)" d="M0,3 L2.85,9 M5.7,3 L2.85,9 L1.9,10.6 L0.5,11.2" stroke="#dc44dc" stroke-width="2.4" stroke-opacity="0.28" fill="none" stroke-linejoin="round" stroke-linecap="round" vector-effect="non-scaling-stroke" shape-rendering="geometricPrecision"/>
<path transform="translate(601.25,4.70) scale(0.861,0.889)" d="M0,3 L1.6,9 L3.15,3 L4.7,9 L6.3,3" stroke="#dc44dc" stroke-width="2.4" stroke-opacity="0.28" fill="none" stroke-linejoin="round" stroke-linecap="round" vector-effect="non-scaling-stroke" shape-rendering="geometricPrecision"/>
<path transform="translate(608.13,4.70) scale(0.861,0.889)" d="M0.5,5.3 L6.9,5.3" stroke="#dc44dc" stroke-width="2.4" stroke-opacity="0.28" fill="none" stroke-linejoin="round" stroke-linecap="round" vector-effect="non-scaling-stroke" shape-rendering="geometricPrecision"/>
<path transform="translate(616.65,4.70) scale(0.861,0.889)" d="M0,2.2 L2.8,0 L2.8,9" stroke="#dc44dc" stroke-width="2.4" stroke-opacity="0.28" fill="none" stroke-linejoin="round" stroke-linecap="round" vector-effect="non-scaling-stroke" shape-rendering="geometricPrecision"/>
<path transform="translate(622.46,4.70) scale(0.861,0.889)" d="M3.1,0 Q0.4,0 0.4,2 Q0.4,4 3.1,4 Q5.8,4 5.8,2 Q5.8,0 3.1,0 M3.1,4 Q0,4 0,6.5 Q0,9 3.1,9 Q6.2,9 6.2,6.5 Q6.2,4 3.1,4" stroke="#dc44dc" stroke-width="2.4" stroke-opacity="0.28" fill="none" stroke-linejoin="round" stroke-linecap="round" vector-effect="non-scaling-stroke" shape-rendering="geometricPrecision"/>
<path d="M589,4h1v5h-1zM590,8h1v5h-1zM591,4h1v4h-1zM592,7h1v4h-1zM593,8h1v5h-1zM594,4h1v4h-1zM595,7h1v2h-1zM595,14h1v1h-1zM596,9h1v2h-1zM596,14h1v1h-1zM597,11h1v3h-1zM598,9h1v2h-1zM599,7h1v2h-1zM601,7h1v3h-1zM602,10h1v3h-1zM603,7h1v3h-1zM604,9h1v2h-1zM605,10h1v3h-1zM606,7h1v3h-1zM608,9h1v1h-1zM609,9h1v1h-1zM610,9h1v1h-1zM611,9h1v1h-1zM612,9h1v1h-1zM613,9h1v1h-1zM614,9h1v1h-1zM616,6h1v1h-1zM617,5h1v1h-1zM618,5h1v1h-1zM619,4h1v9h-1zM622,5h1v3h-1zM622,9h1v3h-1zM623,4h1v2h-1zM623,7h1v2h-1zM623,12h1v1h-1zM624,4h1v1h-1zM624,8h1v1h-1zM624,12h1v1h-1zM625,4h1v1h-1zM625,8h1v1h-1zM625,12h1v1h-1zM626,4h1v2h-1zM626,7h1v2h-1zM626,12h1v1h-1zM627,5h1v8h-1z" fill="#dc44dc"/>
<path d="M586,15h40v1h-40z" fill="#dc44dc"/>
<path d="M574,40h1v2h-1zM575,38h1v2h-1zM576,36h1v2h-1zM577,34h1v2h-1zM578,32h1v2h-1zM579,30h1v2h-1zM580,27h1v3h-1zM581,25h1v2h-1zM582,23h1v2h-1zM583,21h1v2h-1zM584,19h1v2h-1zM585,17h1v2h-1zM586,15h1v2h-1z" fill="#dc44dc"/>
<path d="M574,39h1v3h-1zM575,35h1v6h-1zM576,33h1v2h-1zM576,37h1v2h-1zM577,33h1v1h-1zM577,35h1v2h-1zM578,34h1v1h-1z" fill="#dc44dc"/>
<path transform="translate(662.50,4.60) scale(0.889,0.889)" d="M0,9 L0,0 L6.7,9 L6.7,0" stroke="#dc44dc" stroke-width="2.4" stroke-opacity="0.28" fill="none" stroke-linejoin="round" stroke-linecap="round" vector-effect="non-scaling-stroke" shape-rendering="geometricPrecision"/>
<path transform="translate(669.88,4.60) scale(0.889,0.889)" d="M4.9,3 L4.9,9 M4.9,4.4 Q4,3 2.5,3 Q0,3 0,6 Q0,9 2.5,9 Q4,9 4.9,7.6" stroke="#dc44dc" stroke-width="2.4" stroke-opacity="0.28" fill="none" stroke-linejoin="round" stroke-linecap="round" vector-effect="non-scaling-stroke" shape-rendering="geometricPrecision"/>
<path transform="translate(675.57,4.60) scale(0.889,0.889)" d="M0,3 L1.6,9 L3.15,3 L4.7,9 L6.3,3" stroke="#dc44dc" stroke-width="2.4" stroke-opacity="0.28" fill="none" stroke-linejoin="round" stroke-linecap="round" vector-effect="non-scaling-stroke" shape-rendering="geometricPrecision"/>
<path transform="translate(682.68,4.60) scale(0.889,0.889)" d="M0.5,5.3 L6.9,5.3" stroke="#dc44dc" stroke-width="2.4" stroke-opacity="0.28" fill="none" stroke-linejoin="round" stroke-linecap="round" vector-effect="non-scaling-stroke" shape-rendering="geometricPrecision"/>
<path transform="translate(691.48,4.60) scale(0.889,0.889)" d="M0,2.2 L2.8,0 L2.8,9" stroke="#dc44dc" stroke-width="2.4" stroke-opacity="0.28" fill="none" stroke-linejoin="round" stroke-linecap="round" vector-effect="non-scaling-stroke" shape-rendering="geometricPrecision"/>
<path d="M662,4h1v9h-1zM663,5h1v2h-1zM664,7h1v1h-1zM665,8h1v1h-1zM666,9h1v2h-1zM667,11h1v1h-1zM668,4h1v9h-1zM669,9h1v2h-1zM670,7h1v2h-1zM670,11h1v2h-1zM671,7h1v1h-1zM671,12h1v1h-1zM672,7h1v1h-1zM672,12h1v1h-1zM673,7h1v2h-1zM673,11h1v2h-1zM674,7h1v6h-1zM675,7h1v3h-1zM676,10h1v3h-1zM677,9h1v2h-1zM678,7h1v3h-1zM679,10h1v3h-1zM680,9h1v2h-1zM681,7h1v2h-1zM683,9h1v1h-1zM684,9h1v1h-1zM685,9h1v1h-1zM686,9h1v1h-1zM687,9h1v1h-1zM688,9h1v1h-1zM691,6h1v1h-1zM692,5h1v1h-1zM693,4h1v9h-1z" fill="#dc44dc"/>
<path d="M660,15h26v1h-26z" fill="#dc44dc"/>
<path d="M653,40h1v2h-1zM654,36h1v4h-1zM655,32h1v4h-1zM656,29h1v3h-1zM657,25h1v4h-1zM658,21h1v4h-1zM659,17h1v4h-1zM660,15h1v2h-1z" fill="#dc44dc"/>
<path d="M653,37h1v5h-1zM654,33h1v4h-1zM654,38h1v2h-1zM655,33h1v1h-1zM655,36h1v2h-1zM656,34h1v2h-1z" fill="#dc44dc"/>
<path transform="translate(673.20,144.70) scale(0.867,0.867)" d="M0,9 L0,0 L6.7,9 L6.7,0" stroke="#dc44dc" stroke-width="2.4" stroke-opacity="0.28" fill="none" stroke-linejoin="round" stroke-linecap="round" vector-effect="non-scaling-stroke" shape-rendering="geometricPrecision"/>
<path transform="translate(680.39,144.70) scale(0.867,0.867)" d="M4.9,3 L4.9,9 M4.9,4.4 Q4,3 2.5,3 Q0,3 0,6 Q0,9 2.5,9 Q4,9 4.9,7.6" stroke="#dc44dc" stroke-width="2.4" stroke-opacity="0.28" fill="none" stroke-linejoin="round" stroke-linecap="round" vector-effect="non-scaling-stroke" shape-rendering="geometricPrecision"/>
<path transform="translate(685.94,144.70) scale(0.867,0.867)" d="M0,3 L1.6,9 L3.15,3 L4.7,9 L6.3,3" stroke="#dc44dc" stroke-width="2.4" stroke-opacity="0.28" fill="none" stroke-linejoin="round" stroke-linecap="round" vector-effect="non-scaling-stroke" shape-rendering="geometricPrecision"/>
<path d="M673,144h1v9h-1zM674,145h1v2h-1zM675,147h1v1h-1zM676,148h1v1h-1zM677,149h1v2h-1zM678,151h1v1h-1zM679,144h1v9h-1zM680,147h1v5h-1zM681,147h1v1h-1zM681,152h1v1h-1zM682,147h1v1h-1zM682,152h1v1h-1zM683,147h1v1h-1zM683,152h1v1h-1zM684,147h1v6h-1zM685,147h1v2h-1zM686,149h1v2h-1zM687,150h1v3h-1zM688,147h1v3h-1zM689,149h1v2h-1zM690,150h1v3h-1zM691,147h1v3h-1z" fill="#dc44dc"/>
<path d="M670,155h16v1h-16z" fill="#dc44dc"/>
<path d="M670,155h1v1h-1zM669,156h1v1h-1zM668,157h1v1h-1zM667,158h1v1h-1zM666,159h1v1h-1zM665,160h1v1h-1zM664,161h1v1h-1zM663,162h1v1h-1zM662,163h1v1h-1zM660,164h2v1h-2zM659,165h1v1h-1zM658,166h1v1h-1zM657,167h1v1h-1zM656,168h1v1h-1zM655,169h1v1h-1zM654,170h1v1h-1zM653,171h1v1h-1zM652,172h1v1h-1zM651,173h1v1h-1zM650,174h1v1h-1z" fill="#dc44dc"/>
<path d="M655,168h1v1h-1zM654,169h1v1h-1zM656,169h1v1h-1zM653,170h1v1h-1zM655,170h1v1h-1zM652,171h3v1h-3zM652,172h1v1h-1zM651,173h1v1h-1zM650,174h1v1h-1z" fill="#dc44dc"/>
<path transform="translate(668.80,378.80) scale(0.833,0.833)" d="M0,9 L0,0 L6.7,9 L6.7,0" stroke="#dc44dc" stroke-width="2.4" stroke-opacity="0.28" fill="none" stroke-linejoin="round" stroke-linecap="round" vector-effect="non-scaling-stroke" shape-rendering="geometricPrecision"/>
<path transform="translate(675.72,378.80) scale(0.833,0.833)" d="M4.9,3 L4.9,9 M4.9,4.4 Q4,3 2.5,3 Q0,3 0,6 Q0,9 2.5,9 Q4,9 4.9,7.6" stroke="#dc44dc" stroke-width="2.4" stroke-opacity="0.28" fill="none" stroke-linejoin="round" stroke-linecap="round" vector-effect="non-scaling-stroke" shape-rendering="geometricPrecision"/>
<path transform="translate(681.05,378.80) scale(0.833,0.833)" d="M0,3 L1.6,9 L3.15,3 L4.7,9 L6.3,3" stroke="#dc44dc" stroke-width="2.4" stroke-opacity="0.28" fill="none" stroke-linejoin="round" stroke-linecap="round" vector-effect="non-scaling-stroke" shape-rendering="geometricPrecision"/>
<path d="M668,378h1v9h-1zM669,379h1v2h-1zM670,381h1v1h-1zM671,382h1v1h-1zM672,383h1v2h-1zM673,385h1v1h-1zM674,378h1v9h-1zM675,382h1v4h-1zM676,381h1v1h-1zM676,385h1v2h-1zM677,381h1v1h-1zM677,386h1v1h-1zM678,381h1v1h-1zM678,386h1v1h-1zM679,381h1v6h-1zM681,381h1v3h-1zM682,384h1v3h-1zM683,381h1v3h-1zM684,384h1v3h-1zM685,383h1v2h-1zM686,381h1v2h-1z" fill="#dc44dc"/>
<path d="M666,388h21v1h-21zM660,412h1v3h-1zM661,408h1v4h-1zM662,404h1v4h-1zM663,399h1v5h-1zM664,395h1v4h-1zM665,391h1v4h-1zM666,388h1v3h-1z" fill="#dc44dc"/>
<path transform="translate(290.50,376.70) scale(0.868,0.867)" d="M0,0 L1.6,9 L3.25,0 L4.9,9 L6.5,0" stroke="#dc44dc" stroke-width="2.4" stroke-opacity="0.28" fill="none" stroke-linejoin="round" stroke-linecap="round" vector-effect="non-scaling-stroke" shape-rendering="geometricPrecision"/>
<path transform="translate(296.40,376.70) scale(0.868,0.867)" d="M0,3 L2.85,9 M5.7,3 L2.85,9 L1.9,10.6 L0.5,11.2" stroke="#dc44dc" stroke-width="2.4" stroke-opacity="0.28" fill="none" stroke-linejoin="round" stroke-linecap="round" vector-effect="non-scaling-stroke" shape-rendering="geometricPrecision"/>
<path transform="translate(302.65,376.70) scale(0.868,0.867)" d="M0,3 L1.6,9 L3.15,3 L4.7,9 L6.3,3" stroke="#dc44dc" stroke-width="2.4" stroke-opacity="0.28" fill="none" stroke-linejoin="round" stroke-linecap="round" vector-effect="non-scaling-stroke" shape-rendering="geometricPrecision"/>
<path transform="translate(309.59,376.70) scale(0.868,0.867)" d="M0.5,5.3 L6.9,5.3" stroke="#dc44dc" stroke-width="2.4" stroke-opacity="0.28" fill="none" stroke-linejoin="round" stroke-linecap="round" vector-effect="non-scaling-stroke" shape-rendering="geometricPrecision"/>
<path transform="translate(318.18,376.70) scale(0.868,0.867)" d="M0,2.2 L2.8,0 L2.8,9" stroke="#dc44dc" stroke-width="2.4" stroke-opacity="0.28" fill="none" stroke-linejoin="round" stroke-linecap="round" vector-effect="non-scaling-stroke" shape-rendering="geometricPrecision"/>
<path transform="translate(323.95,376.70) scale(0.868,0.867)" d="M5.8,0 L0.8,0 L0.3,4 Q1.4,3.2 3.2,3.2 Q6.4,3.2 6.4,6.1 Q6.4,9 3.2,9 Q0.7,9 0,7.4" stroke="#dc44dc" stroke-width="2.4" stroke-opacity="0.28" fill="none" stroke-linejoin="round" stroke-linecap="round" vector-effect="non-scaling-stroke" shape-rendering="geometricPrecision"/>
<path d="M290,376h1v5h-1zM291,381h1v4h-1zM292,378h1v4h-1zM293,376h1v5h-1zM294,381h1v4h-1zM295,378h1v4h-1zM296,376h1v2h-1zM296,379h1v2h-1zM296,386h1v1h-1zM297,381h1v2h-1zM297,385h1v1h-1zM298,383h1v3h-1zM299,382h1v2h-1zM300,380h1v2h-1zM301,379h1v1h-1zM302,379h1v2h-1zM303,381h1v2h-1zM304,382h1v3h-1zM305,379h1v3h-1zM306,382h1v3h-1zM307,381h1v2h-1zM308,379h1v2h-1zM310,381h1v1h-1zM311,381h1v1h-1zM312,381h1v1h-1zM313,381h1v1h-1zM314,381h1v1h-1zM315,381h1v1h-1zM318,378h1v1h-1zM319,377h1v1h-1zM320,376h1v9h-1zM323,383h1v1h-1zM324,376h1v5h-1zM324,383h1v2h-1zM325,376h1v1h-1zM325,379h1v1h-1zM325,384h1v1h-1zM326,376h1v1h-1zM326,379h1v1h-1zM326,384h1v1h-1zM327,376h1v1h-1zM327,379h1v1h-1zM327,384h1v1h-1zM328,376h1v1h-1zM328,379h1v2h-1zM328,383h1v2h-1zM329,380h1v4h-1z" fill="#dc44dc"/>
<path d="M287,387h41v1h-41z" fill="#dc44dc"/>
<path d="M280,416h1v3h-1zM281,412h1v4h-1zM282,408h1v4h-1zM283,403h1v5h-1zM284,399h1v4h-1zM285,394h1v5h-1zM286,390h1v4h-1zM287,387h1v3h-1z" fill="#dc44dc"/>
<path d="M280,410h1v9h-1zM280,410h1v1h-1zM280,417h1v2h-1zM281,410h1v1h-1zM281,413h1v4h-1zM282,411h1v2h-1z" fill="#dc44dc"/>
<path transform="translate(403.50,398.70) scale(0.864,0.867)" d="M0,0 L1.6,9 L3.25,0 L4.9,9 L6.5,0" stroke="#dc44dc" stroke-width="2.4" stroke-opacity="0.28" fill="none" stroke-linejoin="round" stroke-linecap="round" vector-effect="non-scaling-stroke" shape-rendering="geometricPrecision"/>
<path transform="translate(409.37,398.70) scale(0.864,0.867)" d="M0,3 L2.85,9 M5.7,3 L2.85,9 L1.9,10.6 L0.5,11.2" stroke="#dc44dc" stroke-width="2.4" stroke-opacity="0.28" fill="none" stroke-linejoin="round" stroke-linecap="round" vector-effect="non-scaling-stroke" shape-rendering="geometricPrecision"/>
<path transform="translate(415.59,398.70) scale(0.864,0.867)" d="M0,3 L1.6,9 L3.15,3 L4.7,9 L6.3,3" stroke="#dc44dc" stroke-width="2.4" stroke-opacity="0.28" fill="none" stroke-linejoin="round" stroke-linecap="round" vector-effect="non-scaling-stroke" shape-rendering="geometricPrecision"/>
<path transform="translate(422.50,398.70) scale(0.864,0.867)" d="M0.5,5.3 L6.9,5.3" stroke="#dc44dc" stroke-width="2.4" stroke-opacity="0.28" fill="none" stroke-linejoin="round" stroke-linecap="round" vector-effect="non-scaling-stroke" shape-rendering="geometricPrecision"/>
<path transform="translate(431.05,398.70) scale(0.864,0.867)" d="M0,2.2 L2.8,0 L2.8,9" stroke="#dc44dc" stroke-width="2.4" stroke-opacity="0.28" fill="none" stroke-linejoin="round" stroke-linecap="round" vector-effect="non-scaling-stroke" shape-rendering="geometricPrecision"/>
<path transform="translate(436.80,398.70) scale(0.864,0.867)" d="M4.6,0 L0,6.2 L6.6,6.2 M4.6,0 L4.6,9" stroke="#dc44dc" stroke-width="2.4" stroke-opacity="0.28" fill="none" stroke-linejoin="round" stroke-linecap="round" vector-effect="non-scaling-stroke" shape-rendering="geometricPrecision"/>
<path d="M403,398h1v5h-1zM404,403h1v4h-1zM405,400h1v4h-1zM406,398h1v5h-1zM407,403h1v4h-1zM408,400h1v4h-1zM409,398h1v2h-1zM409,401h1v2h-1zM409,408h1v1h-1zM410,403h1v2h-1zM410,407h1v1h-1zM411,405h1v3h-1zM412,404h1v2h-1zM413,402h1v2h-1zM414,401h1v1h-1zM415,401h1v3h-1zM416,404h1v3h-1zM417,403h1v2h-1zM418,401h1v3h-1zM419,404h1v3h-1zM420,403h1v2h-1zM421,401h1v2h-1zM422,403h1v1h-1zM423,403h1v1h-1zM424,403h1v1h-1zM425,403h1v1h-1zM426,403h1v1h-1zM427,403h1v1h-1zM428,403h1v1h-1zM431,400h1v1h-1zM432,399h1v1h-1zM433,398h1v9h-1zM436,404h1v1h-1zM437,402h1v3h-1zM438,401h1v1h-1zM438,404h1v1h-1zM439,399h1v2h-1zM439,404h1v1h-1zM440,398h1v9h-1zM441,404h1v1h-1zM442,404h1v1h-1z" fill="#dc44dc"/>
<path d="M400,409h40v1h-40z" fill="#dc44dc"/>
<path d="M440,409h1v1h-1zM441,410h2v1h-2zM443,411h1v1h-1zM444,412h2v1h-2zM446,413h1v1h-1zM447,414h2v1h-2zM449,415h1v1h-1zM450,416h2v1h-2zM452,417h1v1h-1zM453,418h2v1h-2zM455,419h1v1h-1zM456,420h2v1h-2zM458,421h1v1h-1zM459,422h2v1h-2zM461,423h1v1h-1zM462,424h2v1h-2zM464,425h1v1h-1z" fill="#dc44dc"/>
<path d="M458,419h1v1h-1zM457,420h1v1h-1zM459,420h1v1h-1zM456,421h1v1h-1zM460,421h1v1h-1zM457,422h2v1h-2zM461,422h1v1h-1zM459,423h2v1h-2zM462,423h1v1h-1zM461,424h3v1h-3zM463,425h2v1h-2z" fill="#dc44dc"/>
<path transform="translate(471.30,385.80) scale(0.857,0.878)" d="M0,0 L1.6,9 L3.25,0 L4.9,9 L6.5,0" stroke="#dc44dc" stroke-width="2.4" stroke-opacity="0.28" fill="none" stroke-linejoin="round" stroke-linecap="round" vector-effect="non-scaling-stroke" shape-rendering="geometricPrecision"/>
<path transform="translate(477.12,385.80) scale(0.857,0.878)" d="M0,3 L2.85,9 M5.7,3 L2.85,9 L1.9,10.6 L0.5,11.2" stroke="#dc44dc" stroke-width="2.4" stroke-opacity="0.28" fill="none" stroke-linejoin="round" stroke-linecap="round" vector-effect="non-scaling-stroke" shape-rendering="geometricPrecision"/>
<path transform="translate(483.29,385.80) scale(0.857,0.878)" d="M0,3 L1.6,9 L3.15,3 L4.7,9 L6.3,3" stroke="#dc44dc" stroke-width="2.4" stroke-opacity="0.28" fill="none" stroke-linejoin="round" stroke-linecap="round" vector-effect="non-scaling-stroke" shape-rendering="geometricPrecision"/>
<path transform="translate(490.14,385.80) scale(0.857,0.878)" d="M0.5,5.3 L6.9,5.3" stroke="#dc44dc" stroke-width="2.4" stroke-opacity="0.28" fill="none" stroke-linejoin="round" stroke-linecap="round" vector-effect="non-scaling-stroke" shape-rendering="geometricPrecision"/>
<path transform="translate(498.62,385.80) scale(0.857,0.878)" d="M0,2.2 L2.8,0 L2.8,9" stroke="#dc44dc" stroke-width="2.4" stroke-opacity="0.28" fill="none" stroke-linejoin="round" stroke-linecap="round" vector-effect="non-scaling-stroke" shape-rendering="geometricPrecision"/>
<path transform="translate(504.32,385.80) scale(0.857,0.878)" d="M5.8,0 L0.8,0 L0.3,4 Q1.4,3.2 3.2,3.2 Q6.4,3.2 6.4,6.1 Q6.4,9 3.2,9 Q0.7,9 0,7.4" stroke="#dc44dc" stroke-width="2.4" stroke-opacity="0.28" fill="none" stroke-linejoin="round" stroke-linecap="round" vector-effect="non-scaling-stroke" shape-rendering="geometricPrecision"/>
<path d="M471,385h1v5h-1zM472,390h1v4h-1zM473,387h1v4h-1zM474,385h1v5h-1zM475,389h1v5h-1zM476,385h1v4h-1zM477,388h1v2h-1zM477,395h1v1h-1zM478,390h1v2h-1zM478,395h1v1h-1zM479,392h1v3h-1zM480,391h1v2h-1zM481,389h1v2h-1zM482,388h1v1h-1zM483,388h1v3h-1zM484,391h1v3h-1zM485,388h1v3h-1zM486,390h1v2h-1zM487,391h1v3h-1zM488,388h1v3h-1zM490,390h1v1h-1zM491,390h1v1h-1zM492,390h1v1h-1zM493,390h1v1h-1zM494,390h1v1h-1zM495,390h1v1h-1zM496,390h1v1h-1zM498,387h1v1h-1zM499,386h1v1h-1zM500,386h1v1h-1zM501,385h1v9h-1zM504,388h1v2h-1zM504,392h1v2h-1zM505,385h1v4h-1zM505,393h1v1h-1zM506,385h1v1h-1zM506,388h1v1h-1zM506,393h1v1h-1zM507,385h1v1h-1zM507,388h1v1h-1zM507,393h1v1h-1zM508,385h1v1h-1zM508,388h1v1h-1zM508,393h1v1h-1zM509,385h1v1h-1zM509,389h1v5h-1z" fill="#dc44dc"/>
<path d="M468,397h41v1h-41z" fill="#dc44dc"/>
<path d="M509,397h1v1h-1zM510,398h1v2h-1zM511,400h1v2h-1zM512,402h1v1h-1zM513,403h1v2h-1zM514,405h1v2h-1zM515,407h1v1h-1zM516,408h1v2h-1zM517,410h1v2h-1zM518,412h1v1h-1z" fill="#dc44dc"/>
<path d="M513,405h1v1h-1zM514,405h1v3h-1zM515,404h1v2h-1zM515,408h1v1h-1zM516,406h1v4h-1zM517,409h1v3h-1zM518,411h1v2h-1z" fill="#dc44dc"/>
<polygon points="546.0,159.7 546.0,173.4 549.0,170.6 552.2,177.8 554.8,176.8 551.7,169.6 555.6,169.3" fill="#ffffff" stroke="#000000" stroke-width="0.4" shape-rendering="geometricPrecision"/>
</svg>
</body></html>
